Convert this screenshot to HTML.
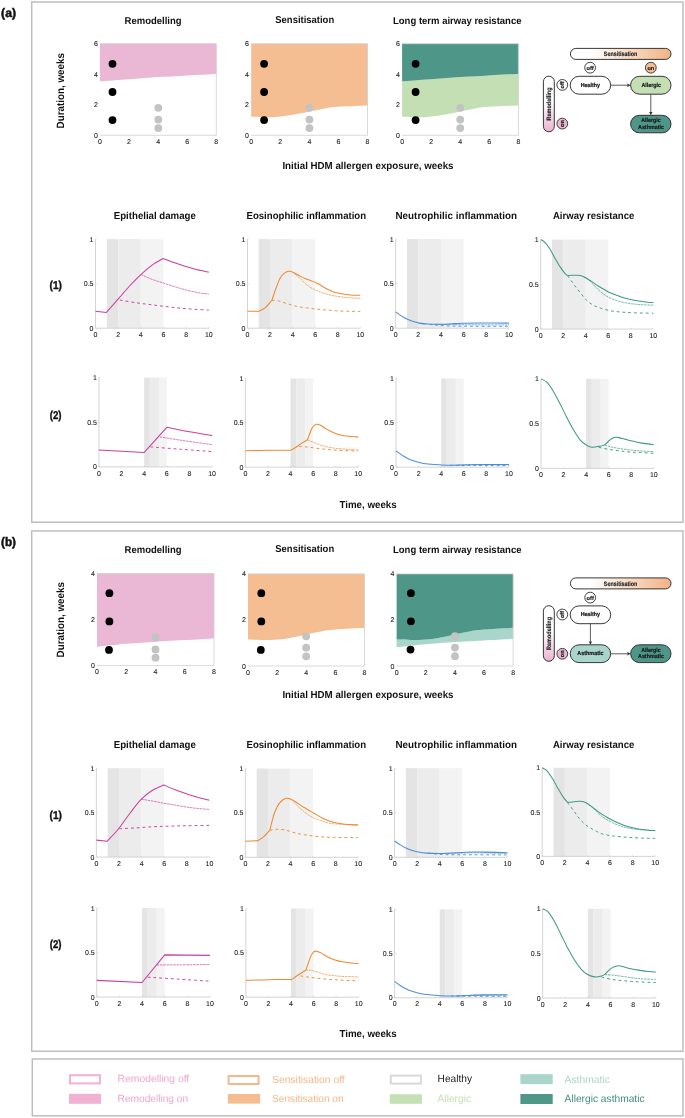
<!DOCTYPE html>
<html><head><meta charset="utf-8"><style>
html,body{margin:0;padding:0;background:#fff;}
svg{display:block;text-rendering:geometricPrecision;-webkit-font-smoothing:antialiased;will-change:transform;font-family:"Liberation Sans", sans-serif;}
</style></head><body>
<svg width="685" height="1118" viewBox="0 0 685 1118">
<defs>
<linearGradient id="gs" x1="0" x2="1" y1="0" y2="0">
<stop offset="0.2" stop-color="#ffffff"/><stop offset="1" stop-color="#F2B385"/></linearGradient>
<linearGradient id="gr" x1="0" x2="0" y1="0" y2="1">
<stop offset="0.45" stop-color="#ffffff"/><stop offset="1" stop-color="#EBB2D2"/></linearGradient>
</defs>
<rect width="685" height="1118" fill="#fff"/>
<rect x="31.7" y="2.0" width="651.3" height="520.2" fill="none" stroke="#BEBEBE" stroke-width="1.5"/>
<rect x="31.7" y="531.0" width="651.3" height="520.2" fill="none" stroke="#BEBEBE" stroke-width="1.5"/>
<rect x="32.3" y="1059.0" width="650.7" height="56.8" fill="none" stroke="#BEBEBE" stroke-width="1.5"/>
<text x="1.10" y="17.40" font-size="12.30" font-weight="bold" fill="#111" text-anchor="start" textLength="14.9" lengthAdjust="spacingAndGlyphs" stroke="#111" stroke-width="0.50">(a)</text>
<text x="1.10" y="546.40" font-size="12.30" font-weight="bold" fill="#111" text-anchor="start" textLength="14.9" lengthAdjust="spacingAndGlyphs" stroke="#111" stroke-width="0.50">(b)</text>
<text x="124.60" y="23.70" font-size="10.00" font-weight="bold" fill="#111" text-anchor="start" textLength="57.0" lengthAdjust="spacingAndGlyphs" >Remodelling</text>
<text x="275.30" y="23.40" font-size="10.00" font-weight="bold" fill="#111" text-anchor="start" textLength="58.9" lengthAdjust="spacingAndGlyphs" >Sensitisation</text>
<text x="393.00" y="24.00" font-size="10.00" font-weight="bold" fill="#111" text-anchor="start" textLength="128.5" lengthAdjust="spacingAndGlyphs" >Long term airway resistance</text>
<text x="63.90" y="128.40" font-size="10.6" font-weight="bold" fill="#111" transform="rotate(-90 63.90 128.40)" textLength="75.4" lengthAdjust="spacingAndGlyphs">Duration, weeks</text>
<text x="282.40" y="169.40" font-size="10.10" font-weight="bold" fill="#111" text-anchor="start" textLength="171.1" lengthAdjust="spacingAndGlyphs" >Initial HDM allergen exposure, weeks</text>
<text x="113.80" y="219.30" font-size="10.10" font-weight="bold" fill="#111" text-anchor="start" textLength="82.0" lengthAdjust="spacingAndGlyphs" >Epithelial damage</text>
<text x="246.50" y="219.30" font-size="10.10" font-weight="bold" fill="#111" text-anchor="start" textLength="119.6" lengthAdjust="spacingAndGlyphs" >Eosinophilic inflammation</text>
<text x="395.50" y="219.30" font-size="10.10" font-weight="bold" fill="#111" text-anchor="start" textLength="121.5" lengthAdjust="spacingAndGlyphs" >Neutrophilic inflammation</text>
<text x="552.90" y="219.30" font-size="10.10" font-weight="bold" fill="#111" text-anchor="start" textLength="81.4" lengthAdjust="spacingAndGlyphs" >Airway resistance</text>
<text x="49.60" y="289.10" font-size="11.30" font-weight="bold" fill="#111" text-anchor="start" textLength="12.3" lengthAdjust="spacingAndGlyphs" stroke="#111" stroke-width="0.40">(1)</text>
<text x="49.70" y="418.60" font-size="11.30" font-weight="bold" fill="#111" text-anchor="start" textLength="11.8" lengthAdjust="spacingAndGlyphs" stroke="#111" stroke-width="0.40">(2)</text>
<text x="339.40" y="507.60" font-size="10.10" font-weight="bold" fill="#111" text-anchor="start" textLength="57.3" lengthAdjust="spacingAndGlyphs" >Time, weeks</text>
<text x="124.60" y="552.70" font-size="10.00" font-weight="bold" fill="#111" text-anchor="start" textLength="57.0" lengthAdjust="spacingAndGlyphs" >Remodelling</text>
<text x="275.30" y="552.40" font-size="10.00" font-weight="bold" fill="#111" text-anchor="start" textLength="58.9" lengthAdjust="spacingAndGlyphs" >Sensitisation</text>
<text x="393.00" y="553.00" font-size="10.00" font-weight="bold" fill="#111" text-anchor="start" textLength="128.5" lengthAdjust="spacingAndGlyphs" >Long term airway resistance</text>
<text x="63.90" y="657.40" font-size="10.6" font-weight="bold" fill="#111" transform="rotate(-90 63.90 657.40)" textLength="75.4" lengthAdjust="spacingAndGlyphs">Duration, weeks</text>
<text x="282.40" y="698.40" font-size="10.10" font-weight="bold" fill="#111" text-anchor="start" textLength="171.1" lengthAdjust="spacingAndGlyphs" >Initial HDM allergen exposure, weeks</text>
<text x="113.80" y="748.30" font-size="10.10" font-weight="bold" fill="#111" text-anchor="start" textLength="82.0" lengthAdjust="spacingAndGlyphs" >Epithelial damage</text>
<text x="246.50" y="748.30" font-size="10.10" font-weight="bold" fill="#111" text-anchor="start" textLength="119.6" lengthAdjust="spacingAndGlyphs" >Eosinophilic inflammation</text>
<text x="395.50" y="748.30" font-size="10.10" font-weight="bold" fill="#111" text-anchor="start" textLength="121.5" lengthAdjust="spacingAndGlyphs" >Neutrophilic inflammation</text>
<text x="552.90" y="748.30" font-size="10.10" font-weight="bold" fill="#111" text-anchor="start" textLength="81.4" lengthAdjust="spacingAndGlyphs" >Airway resistance</text>
<text x="49.60" y="818.70" font-size="11.30" font-weight="bold" fill="#111" text-anchor="start" textLength="12.3" lengthAdjust="spacingAndGlyphs" stroke="#111" stroke-width="0.40">(1)</text>
<text x="49.70" y="947.60" font-size="11.30" font-weight="bold" fill="#111" text-anchor="start" textLength="11.8" lengthAdjust="spacingAndGlyphs" stroke="#111" stroke-width="0.40">(2)</text>
<text x="339.40" y="1036.60" font-size="10.10" font-weight="bold" fill="#111" text-anchor="start" textLength="57.3" lengthAdjust="spacingAndGlyphs" >Time, weeks</text>
<path d="M100.00,43.70 L216.30,43.70 L216.30,73.93 C211.45,74.18 197.45,74.89 187.23,75.45 C177.00,76.01 164.64,76.66 154.95,77.29 C145.26,77.91 138.23,78.53 129.07,79.20 C119.92,79.86 104.85,80.91 100.00,81.26 Z" fill="#EAB7D4"/>
<path d="M100.00,43.70 H216.30 V135.30 H100.00" fill="none" stroke="#CFCFCF" stroke-width="0.8"/>
<text x="100.00" y="144.10" font-size="7.00" fill="#1e1e1e" text-anchor="middle" stroke="#1e1e1e" stroke-width="0.1">0</text>
<text x="129.07" y="144.10" font-size="7.00" fill="#1e1e1e" text-anchor="middle" stroke="#1e1e1e" stroke-width="0.1">2</text>
<text x="158.15" y="144.10" font-size="7.00" fill="#1e1e1e" text-anchor="middle" stroke="#1e1e1e" stroke-width="0.1">4</text>
<text x="187.23" y="144.10" font-size="7.00" fill="#1e1e1e" text-anchor="middle" stroke="#1e1e1e" stroke-width="0.1">6</text>
<text x="216.30" y="144.10" font-size="7.00" fill="#1e1e1e" text-anchor="middle" stroke="#1e1e1e" stroke-width="0.1">8</text>
<text x="97.80" y="137.80" font-size="7.00" fill="#1e1e1e" text-anchor="end" stroke="#1e1e1e" stroke-width="0.1">0</text>
<text x="97.80" y="107.27" font-size="7.00" fill="#1e1e1e" text-anchor="end" stroke="#1e1e1e" stroke-width="0.1">2</text>
<text x="97.80" y="76.73" font-size="7.00" fill="#1e1e1e" text-anchor="end" stroke="#1e1e1e" stroke-width="0.1">4</text>
<text x="97.80" y="46.20" font-size="7.00" fill="#1e1e1e" text-anchor="end" stroke="#1e1e1e" stroke-width="0.1">6</text>
<circle cx="112.50" cy="63.80" r="3.9" fill="#000"/>
<circle cx="112.50" cy="92.00" r="3.9" fill="#000"/>
<circle cx="112.50" cy="120.10" r="3.9" fill="#000"/>
<circle cx="158.30" cy="107.80" r="3.9" fill="#C3C3C3"/>
<circle cx="158.30" cy="119.60" r="3.9" fill="#C3C3C3"/>
<circle cx="158.30" cy="128.10" r="3.9" fill="#C3C3C3"/>
<path d="M251.20,43.70 L367.50,43.70 L367.50,105.38 C362.90,105.58 347.05,106.09 339.88,106.60 C332.71,107.11 329.56,107.62 324.47,108.43 C319.38,109.24 314.87,110.39 309.35,111.48 C303.83,112.58 297.38,114.05 291.32,115.00 C285.27,115.94 279.69,116.85 273.01,117.13 C266.32,117.41 254.83,116.75 251.20,116.67 Z" fill="#F5BE92"/>
<path d="M251.20,43.70 H367.50 V135.30 H251.20" fill="none" stroke="#CFCFCF" stroke-width="0.8"/>
<text x="251.20" y="144.10" font-size="7.00" fill="#1e1e1e" text-anchor="middle" stroke="#1e1e1e" stroke-width="0.1">0</text>
<text x="280.27" y="144.10" font-size="7.00" fill="#1e1e1e" text-anchor="middle" stroke="#1e1e1e" stroke-width="0.1">2</text>
<text x="309.35" y="144.10" font-size="7.00" fill="#1e1e1e" text-anchor="middle" stroke="#1e1e1e" stroke-width="0.1">4</text>
<text x="338.43" y="144.10" font-size="7.00" fill="#1e1e1e" text-anchor="middle" stroke="#1e1e1e" stroke-width="0.1">6</text>
<text x="367.50" y="144.10" font-size="7.00" fill="#1e1e1e" text-anchor="middle" stroke="#1e1e1e" stroke-width="0.1">8</text>
<text x="249.00" y="137.80" font-size="7.00" fill="#1e1e1e" text-anchor="end" stroke="#1e1e1e" stroke-width="0.1">0</text>
<text x="249.00" y="107.27" font-size="7.00" fill="#1e1e1e" text-anchor="end" stroke="#1e1e1e" stroke-width="0.1">2</text>
<text x="249.00" y="76.73" font-size="7.00" fill="#1e1e1e" text-anchor="end" stroke="#1e1e1e" stroke-width="0.1">4</text>
<text x="249.00" y="46.20" font-size="7.00" fill="#1e1e1e" text-anchor="end" stroke="#1e1e1e" stroke-width="0.1">6</text>
<circle cx="264.10" cy="63.80" r="3.9" fill="#000"/>
<circle cx="264.10" cy="92.00" r="3.9" fill="#000"/>
<circle cx="264.10" cy="120.10" r="3.9" fill="#000"/>
<circle cx="309.40" cy="107.80" r="3.9" fill="#C3C3C3"/>
<circle cx="309.40" cy="119.60" r="3.9" fill="#C3C3C3"/>
<circle cx="309.40" cy="128.10" r="3.9" fill="#C3C3C3"/>
<path d="M402.10,81.26 C406.95,80.91 422.02,79.86 431.18,79.20 C440.33,78.53 447.36,77.91 457.05,77.29 C466.74,76.66 479.10,76.01 489.32,75.45 C499.55,74.89 513.55,74.18 518.40,73.93 L518.40,105.38 C513.80,105.58 497.95,106.09 490.78,106.60 C483.61,107.11 480.46,107.62 475.37,108.43 C470.28,109.24 465.77,110.39 460.25,111.48 C454.73,112.58 448.28,114.05 442.22,115.00 C436.17,115.94 430.59,116.85 423.91,117.13 C417.22,117.41 405.73,116.75 402.10,116.67 Z" fill="#C5DFB5"/>
<path d="M402.10,43.70 L518.40,43.70 L518.40,73.93 C513.55,74.18 499.55,74.89 489.32,75.45 C479.10,76.01 466.74,76.66 457.05,77.29 C447.36,77.91 440.33,78.53 431.18,79.20 C422.02,79.86 406.95,80.91 402.10,81.26 Z" fill="#4E9688"/>
<path d="M402.10,43.70 H518.40 V135.30 H402.10" fill="none" stroke="#CFCFCF" stroke-width="0.8"/>
<text x="402.10" y="144.10" font-size="7.00" fill="#1e1e1e" text-anchor="middle" stroke="#1e1e1e" stroke-width="0.1">0</text>
<text x="431.18" y="144.10" font-size="7.00" fill="#1e1e1e" text-anchor="middle" stroke="#1e1e1e" stroke-width="0.1">2</text>
<text x="460.25" y="144.10" font-size="7.00" fill="#1e1e1e" text-anchor="middle" stroke="#1e1e1e" stroke-width="0.1">4</text>
<text x="489.32" y="144.10" font-size="7.00" fill="#1e1e1e" text-anchor="middle" stroke="#1e1e1e" stroke-width="0.1">6</text>
<text x="518.40" y="144.10" font-size="7.00" fill="#1e1e1e" text-anchor="middle" stroke="#1e1e1e" stroke-width="0.1">8</text>
<text x="399.90" y="137.80" font-size="7.00" fill="#1e1e1e" text-anchor="end" stroke="#1e1e1e" stroke-width="0.1">0</text>
<text x="399.90" y="107.27" font-size="7.00" fill="#1e1e1e" text-anchor="end" stroke="#1e1e1e" stroke-width="0.1">2</text>
<text x="399.90" y="76.73" font-size="7.00" fill="#1e1e1e" text-anchor="end" stroke="#1e1e1e" stroke-width="0.1">4</text>
<text x="399.90" y="46.20" font-size="7.00" fill="#1e1e1e" text-anchor="end" stroke="#1e1e1e" stroke-width="0.1">6</text>
<circle cx="415.60" cy="63.80" r="3.9" fill="#000"/>
<circle cx="415.60" cy="92.00" r="3.9" fill="#000"/>
<circle cx="415.60" cy="120.10" r="3.9" fill="#000"/>
<circle cx="460.20" cy="107.80" r="3.9" fill="#C3C3C3"/>
<circle cx="460.20" cy="119.60" r="3.9" fill="#C3C3C3"/>
<circle cx="460.20" cy="128.10" r="3.9" fill="#C3C3C3"/>
<path d="M97.00,573.50 L214.00,573.50 L214.00,638.43 C209.12,638.70 194.50,639.50 184.75,640.04 C175.00,640.58 165.25,641.04 155.50,641.65 C145.75,642.27 136.00,642.88 126.25,643.73 C116.50,644.57 101.88,646.22 97.00,646.72 Z" fill="#EAB7D4"/>
<path d="M97.00,573.50 H214.00 V665.60 H97.00" fill="none" stroke="#CFCFCF" stroke-width="0.8"/>
<text x="97.00" y="674.40" font-size="7.00" fill="#1e1e1e" text-anchor="middle" stroke="#1e1e1e" stroke-width="0.1">0</text>
<text x="126.25" y="674.40" font-size="7.00" fill="#1e1e1e" text-anchor="middle" stroke="#1e1e1e" stroke-width="0.1">2</text>
<text x="155.50" y="674.40" font-size="7.00" fill="#1e1e1e" text-anchor="middle" stroke="#1e1e1e" stroke-width="0.1">4</text>
<text x="184.75" y="674.40" font-size="7.00" fill="#1e1e1e" text-anchor="middle" stroke="#1e1e1e" stroke-width="0.1">6</text>
<text x="214.00" y="674.40" font-size="7.00" fill="#1e1e1e" text-anchor="middle" stroke="#1e1e1e" stroke-width="0.1">8</text>
<text x="94.80" y="668.10" font-size="7.00" fill="#1e1e1e" text-anchor="end" stroke="#1e1e1e" stroke-width="0.1">0</text>
<text x="94.80" y="622.05" font-size="7.00" fill="#1e1e1e" text-anchor="end" stroke="#1e1e1e" stroke-width="0.1">2</text>
<text x="94.80" y="576.00" font-size="7.00" fill="#1e1e1e" text-anchor="end" stroke="#1e1e1e" stroke-width="0.1">4</text>
<circle cx="109.40" cy="593.20" r="3.9" fill="#000"/>
<circle cx="109.40" cy="621.40" r="3.9" fill="#000"/>
<circle cx="109.00" cy="649.90" r="3.9" fill="#000"/>
<circle cx="155.50" cy="637.50" r="3.9" fill="#C3C3C3"/>
<circle cx="155.50" cy="649.40" r="3.9" fill="#C3C3C3"/>
<circle cx="155.50" cy="657.70" r="3.9" fill="#C3C3C3"/>
<path d="M248.00,573.90 L364.50,573.90 L364.50,627.78 C359.65,628.09 342.41,629.04 335.38,629.62 C328.34,630.20 327.12,630.43 322.27,631.23 C317.41,632.04 310.62,633.53 306.25,634.46 C301.88,635.38 299.58,636.03 296.06,636.76 C292.54,637.49 289.50,638.29 285.13,638.83 C280.77,639.37 276.03,639.87 269.84,639.98 C263.65,640.10 251.64,639.60 248.00,639.52 Z" fill="#F5BE92"/>
<path d="M248.00,573.90 H364.50 V666.00 H248.00" fill="none" stroke="#CFCFCF" stroke-width="0.8"/>
<text x="248.00" y="674.80" font-size="7.00" fill="#1e1e1e" text-anchor="middle" stroke="#1e1e1e" stroke-width="0.1">0</text>
<text x="277.12" y="674.80" font-size="7.00" fill="#1e1e1e" text-anchor="middle" stroke="#1e1e1e" stroke-width="0.1">2</text>
<text x="306.25" y="674.80" font-size="7.00" fill="#1e1e1e" text-anchor="middle" stroke="#1e1e1e" stroke-width="0.1">4</text>
<text x="335.38" y="674.80" font-size="7.00" fill="#1e1e1e" text-anchor="middle" stroke="#1e1e1e" stroke-width="0.1">6</text>
<text x="364.50" y="674.80" font-size="7.00" fill="#1e1e1e" text-anchor="middle" stroke="#1e1e1e" stroke-width="0.1">8</text>
<text x="245.80" y="668.50" font-size="7.00" fill="#1e1e1e" text-anchor="end" stroke="#1e1e1e" stroke-width="0.1">0</text>
<text x="245.80" y="622.45" font-size="7.00" fill="#1e1e1e" text-anchor="end" stroke="#1e1e1e" stroke-width="0.1">2</text>
<text x="245.80" y="576.40" font-size="7.00" fill="#1e1e1e" text-anchor="end" stroke="#1e1e1e" stroke-width="0.1">4</text>
<circle cx="261.30" cy="593.20" r="3.9" fill="#000"/>
<circle cx="261.30" cy="621.40" r="3.9" fill="#000"/>
<circle cx="260.80" cy="649.90" r="3.9" fill="#000"/>
<circle cx="306.20" cy="636.30" r="3.9" fill="#C3C3C3"/>
<circle cx="306.20" cy="647.70" r="3.9" fill="#C3C3C3"/>
<circle cx="306.20" cy="656.30" r="3.9" fill="#C3C3C3"/>
<path d="M396.60,639.52 C400.24,639.60 412.25,640.10 418.44,639.98 C424.63,639.87 429.37,639.37 433.73,638.83 C438.10,638.29 441.14,637.49 444.66,636.76 C448.18,636.03 450.48,635.38 454.85,634.46 C459.22,633.53 466.01,632.04 470.87,631.23 C475.72,630.43 476.94,630.20 483.98,629.62 C491.01,629.04 508.25,628.09 513.10,627.78 L513.10,638.83 C508.25,639.10 493.68,639.90 483.98,640.44 C474.27,640.98 464.56,641.44 454.85,642.05 C445.14,642.67 435.43,643.28 425.73,644.13 C416.02,644.97 401.45,646.62 396.60,647.12 Z" fill="#A9D5CB"/>
<path d="M396.60,573.90 L513.10,573.90 L513.10,627.78 C508.25,628.09 491.01,629.04 483.98,629.62 C476.94,630.20 475.72,630.43 470.87,631.23 C466.01,632.04 459.22,633.53 454.85,634.46 C450.48,635.38 448.18,636.03 444.66,636.76 C441.14,637.49 438.10,638.29 433.73,638.83 C429.37,639.37 424.63,639.87 418.44,639.98 C412.25,640.10 400.24,639.60 396.60,639.52 Z" fill="#4E9688"/>
<path d="M396.60,573.90 H513.10 V666.00 H396.60" fill="none" stroke="#CFCFCF" stroke-width="0.8"/>
<text x="396.60" y="674.80" font-size="7.00" fill="#1e1e1e" text-anchor="middle" stroke="#1e1e1e" stroke-width="0.1">0</text>
<text x="425.73" y="674.80" font-size="7.00" fill="#1e1e1e" text-anchor="middle" stroke="#1e1e1e" stroke-width="0.1">2</text>
<text x="454.85" y="674.80" font-size="7.00" fill="#1e1e1e" text-anchor="middle" stroke="#1e1e1e" stroke-width="0.1">4</text>
<text x="483.98" y="674.80" font-size="7.00" fill="#1e1e1e" text-anchor="middle" stroke="#1e1e1e" stroke-width="0.1">6</text>
<text x="513.10" y="674.80" font-size="7.00" fill="#1e1e1e" text-anchor="middle" stroke="#1e1e1e" stroke-width="0.1">8</text>
<text x="394.40" y="668.50" font-size="7.00" fill="#1e1e1e" text-anchor="end" stroke="#1e1e1e" stroke-width="0.1">0</text>
<text x="394.40" y="622.45" font-size="7.00" fill="#1e1e1e" text-anchor="end" stroke="#1e1e1e" stroke-width="0.1">2</text>
<text x="394.40" y="576.40" font-size="7.00" fill="#1e1e1e" text-anchor="end" stroke="#1e1e1e" stroke-width="0.1">4</text>
<circle cx="410.90" cy="593.20" r="3.9" fill="#000"/>
<circle cx="410.90" cy="621.30" r="3.9" fill="#000"/>
<circle cx="410.50" cy="649.60" r="3.9" fill="#000"/>
<circle cx="455.00" cy="636.10" r="3.9" fill="#C3C3C3"/>
<circle cx="455.00" cy="647.60" r="3.9" fill="#C3C3C3"/>
<circle cx="455.00" cy="656.20" r="3.9" fill="#C3C3C3"/>
<rect x="570.4" y="48.40" width="100.6" height="11.0" rx="5.5" fill="url(#gs)" stroke="#222" stroke-width="0.9"/>
<text x="620.6" y="56.10" font-size="6.4" font-weight="bold" fill="#222" stroke="#222" stroke-width="0.15" text-anchor="middle" textLength="33.5" lengthAdjust="spacingAndGlyphs">Sensitisation</text>
<rect x="543.4" y="76.20" width="10.9" height="55.6" rx="5.45" fill="url(#gr)" stroke="#222" stroke-width="0.9"/>
<text x="549.0" y="106.20" font-size="6.4" font-weight="bold" fill="#222" stroke="#222" stroke-width="0.15" text-anchor="middle" transform="rotate(-90 549.0 104.00)" textLength="33" lengthAdjust="spacingAndGlyphs">Remodelling</text>
<circle cx="590.10" cy="67.70" r="5.4" fill="#fff" stroke="#222" stroke-width="0.85"/>
<text x="590.10" y="69.70" font-size="5.6" font-weight="bold" fill="#222" stroke="#222" stroke-width="0.2" text-anchor="middle">off</text>
<circle cx="650.80" cy="67.70" r="5.4" fill="#F5BE92" stroke="#222" stroke-width="0.85"/>
<text x="650.80" y="69.70" font-size="5.6" font-weight="bold" fill="#222" stroke="#222" stroke-width="0.2" text-anchor="middle">on</text>
<circle cx="562.30" cy="84.90" r="5.4" fill="#fff" stroke="#222" stroke-width="0.85"/>
<text x="562.30" y="86.90" font-size="5.6" font-weight="bold" fill="#222" stroke="#222" stroke-width="0.2" text-anchor="middle" transform="rotate(-90 562.30 84.90)">off</text>
<circle cx="562.30" cy="123.60" r="5.4" fill="#EAB7D4" stroke="#222" stroke-width="0.85"/>
<text x="562.30" y="125.60" font-size="5.6" font-weight="bold" fill="#222" stroke="#222" stroke-width="0.2" text-anchor="middle" transform="rotate(-90 562.30 123.60)">on</text>
<rect x="570.20" y="76.30" width="40.50" height="17.90" rx="8.95" fill="#fff" stroke="#222" stroke-width="0.90"/>
<rect x="630.60" y="76.30" width="40.40" height="17.90" rx="8.95" fill="#C5DFB5" stroke="#222" stroke-width="0.90"/>
<rect x="630.60" y="115.30" width="40.40" height="17.50" rx="8.75" fill="#4E9688" stroke="#222" stroke-width="0.90"/>
<text x="580.70" y="86.80" font-size="5.80" font-weight="bold" fill="#1a1a1a" stroke="#1a1a1a" stroke-width="0.22" textLength="19.40" lengthAdjust="spacingAndGlyphs">Healthy</text>
<text x="641.40" y="86.80" font-size="5.80" font-weight="bold" fill="#1a1a1a" stroke="#1a1a1a" stroke-width="0.22" textLength="19.60" lengthAdjust="spacingAndGlyphs">Allergic</text>
<text x="641.30" y="122.40" font-size="5.80" font-weight="bold" fill="#1a1a1a" stroke="#1a1a1a" stroke-width="0.22" textLength="19.40" lengthAdjust="spacingAndGlyphs">Allergic</text>
<text x="638.00" y="128.50" font-size="5.80" font-weight="bold" fill="#1a1a1a" stroke="#1a1a1a" stroke-width="0.22" textLength="26.00" lengthAdjust="spacingAndGlyphs">Asthmatic</text>
<path d="M610.70,85.20 L627.40,85.20" stroke="#333" stroke-width="0.8"/>
<path d="M630.60,85.20 L627.40,86.90 L627.40,83.50 Z" fill="#333"/>
<path d="M650.80,94.20 L650.80,112.10" stroke="#333" stroke-width="0.8"/>
<path d="M650.80,115.30 L649.10,112.10 L652.50,112.10 Z" fill="#333"/>
<rect x="570.4" y="577.90" width="100.6" height="11.0" rx="5.5" fill="url(#gs)" stroke="#222" stroke-width="0.9"/>
<text x="620.6" y="585.60" font-size="6.4" font-weight="bold" fill="#222" stroke="#222" stroke-width="0.15" text-anchor="middle" textLength="33.5" lengthAdjust="spacingAndGlyphs">Sensitisation</text>
<rect x="543.4" y="605.70" width="10.9" height="55.6" rx="5.45" fill="url(#gr)" stroke="#222" stroke-width="0.9"/>
<text x="549.0" y="635.70" font-size="6.4" font-weight="bold" fill="#222" stroke="#222" stroke-width="0.15" text-anchor="middle" transform="rotate(-90 549.0 633.50)" textLength="33" lengthAdjust="spacingAndGlyphs">Remodelling</text>
<circle cx="590.20" cy="597.60" r="5.4" fill="#fff" stroke="#222" stroke-width="0.85"/>
<text x="590.20" y="599.60" font-size="5.6" font-weight="bold" fill="#222" stroke="#222" stroke-width="0.2" text-anchor="middle">off</text>
<circle cx="562.30" cy="614.50" r="5.4" fill="#fff" stroke="#222" stroke-width="0.85"/>
<text x="562.30" y="616.50" font-size="5.6" font-weight="bold" fill="#222" stroke="#222" stroke-width="0.2" text-anchor="middle" transform="rotate(-90 562.30 614.50)">off</text>
<circle cx="562.30" cy="653.80" r="5.4" fill="#EAB7D4" stroke="#222" stroke-width="0.85"/>
<text x="562.30" y="655.80" font-size="5.6" font-weight="bold" fill="#222" stroke="#222" stroke-width="0.2" text-anchor="middle" transform="rotate(-90 562.30 653.80)">on</text>
<rect x="570.20" y="605.90" width="40.50" height="17.80" rx="8.90" fill="#fff" stroke="#222" stroke-width="0.90"/>
<rect x="570.20" y="644.80" width="40.50" height="17.80" rx="8.90" fill="#A9D5CB" stroke="#222" stroke-width="0.90"/>
<rect x="630.60" y="644.80" width="40.40" height="17.80" rx="8.90" fill="#4E9688" stroke="#222" stroke-width="0.90"/>
<text x="580.70" y="616.30" font-size="5.80" font-weight="bold" fill="#1a1a1a" stroke="#1a1a1a" stroke-width="0.22" textLength="19.40" lengthAdjust="spacingAndGlyphs">Healthy</text>
<text x="577.35" y="655.30" font-size="5.80" font-weight="bold" fill="#1a1a1a" stroke="#1a1a1a" stroke-width="0.22" textLength="26.10" lengthAdjust="spacingAndGlyphs">Asthmatic</text>
<text x="641.30" y="651.90" font-size="5.80" font-weight="bold" fill="#1a1a1a" stroke="#1a1a1a" stroke-width="0.22" textLength="19.40" lengthAdjust="spacingAndGlyphs">Allergic</text>
<text x="638.00" y="658.00" font-size="5.80" font-weight="bold" fill="#1a1a1a" stroke="#1a1a1a" stroke-width="0.22" textLength="26.00" lengthAdjust="spacingAndGlyphs">Asthmatic</text>
<path d="M590.40,623.70 L590.40,641.60" stroke="#333" stroke-width="0.8"/>
<path d="M590.40,644.80 L588.70,641.60 L592.10,641.60 Z" fill="#333"/>
<path d="M610.70,653.80 L627.40,653.80" stroke="#333" stroke-width="0.8"/>
<path d="M630.60,653.80 L627.40,655.50 L627.40,652.10 Z" fill="#333"/>
<rect x="106.83" y="239.10" width="11.33" height="89.10" fill="#E4E4E4"/>
<rect x="118.16" y="239.10" width="22.66" height="89.10" fill="#ECECEC"/>
<rect x="140.82" y="239.10" width="22.66" height="89.10" fill="#F3F3F3"/>
<path d="M95.50,239.10 V328.20 H208.80" fill="none" stroke="#CFCFCF" stroke-width="0.9"/>
<path d="M95.50,328.20 v-1.5" stroke="#CFCFCF" stroke-width="0.6"/>
<text x="95.50" y="336.80" font-size="7.00" fill="#1e1e1e" text-anchor="middle" stroke="#1e1e1e" stroke-width="0.1">0</text>
<path d="M118.16,328.20 v-1.5" stroke="#CFCFCF" stroke-width="0.6"/>
<text x="118.16" y="336.80" font-size="7.00" fill="#1e1e1e" text-anchor="middle" stroke="#1e1e1e" stroke-width="0.1">2</text>
<path d="M140.82,328.20 v-1.5" stroke="#CFCFCF" stroke-width="0.6"/>
<text x="140.82" y="336.80" font-size="7.00" fill="#1e1e1e" text-anchor="middle" stroke="#1e1e1e" stroke-width="0.1">4</text>
<path d="M163.48,328.20 v-1.5" stroke="#CFCFCF" stroke-width="0.6"/>
<text x="163.48" y="336.80" font-size="7.00" fill="#1e1e1e" text-anchor="middle" stroke="#1e1e1e" stroke-width="0.1">6</text>
<path d="M186.14,328.20 v-1.5" stroke="#CFCFCF" stroke-width="0.6"/>
<text x="186.14" y="336.80" font-size="7.00" fill="#1e1e1e" text-anchor="middle" stroke="#1e1e1e" stroke-width="0.1">8</text>
<path d="M208.80,328.20 v-1.5" stroke="#CFCFCF" stroke-width="0.6"/>
<text x="208.80" y="336.80" font-size="7.00" fill="#1e1e1e" text-anchor="middle" stroke="#1e1e1e" stroke-width="0.1">10</text>
<path d="M95.50,328.20 h1.5" stroke="#CFCFCF" stroke-width="0.6"/>
<text x="93.50" y="330.70" font-size="7.00" fill="#1e1e1e" text-anchor="end" stroke="#1e1e1e" stroke-width="0.1">0</text>
<path d="M95.50,283.65 h1.5" stroke="#CFCFCF" stroke-width="0.6"/>
<text x="93.50" y="286.15" font-size="7.00" fill="#1e1e1e" text-anchor="end" stroke="#1e1e1e" stroke-width="0.1">0.5</text>
<path d="M95.50,239.10 h1.5" stroke="#CFCFCF" stroke-width="0.6"/>
<text x="93.50" y="241.60" font-size="7.00" fill="#1e1e1e" text-anchor="end" stroke="#1e1e1e" stroke-width="0.1">1</text>
<path d="M95.50,311.27 L106.38,312.43 C108.40,310.14 114.52,303.24 118.50,298.71 C122.48,294.18 126.51,289.31 130.28,285.25 C134.06,281.20 137.53,277.74 141.16,274.38 C144.79,271.03 148.39,267.78 152.04,265.12 C155.68,262.46 161.20,259.55 163.03,258.43 C164.84,259.13 170.13,261.29 173.90,262.62 C177.68,263.96 181.78,265.25 185.69,266.45 C189.60,267.66 193.50,268.87 197.36,269.84 C201.21,270.80 206.89,271.84 208.80,272.25" fill="none" stroke="#CC3D9F" stroke-width="1.05" stroke-linejoin="round"/>
<path d="M141.16,274.56 C142.97,275.36 148.26,277.93 152.04,279.37 C155.81,280.81 159.89,281.94 163.82,283.20 C167.75,284.47 171.68,285.76 175.60,286.95 C179.53,288.13 183.48,289.35 187.39,290.33 C191.30,291.31 195.49,292.22 199.06,292.83 C202.63,293.44 207.18,293.79 208.80,293.99" fill="none" stroke="#CC3D9F" stroke-width="0.8" stroke-dasharray="2.6,0.7" opacity="0.85"/>
<path d="M119.86,300.04 C122.71,300.52 131.32,302.06 136.97,302.90 C142.61,303.73 148.15,304.34 153.74,305.03 C159.33,305.73 164.90,306.46 170.50,307.08 C176.11,307.71 181.00,308.27 187.39,308.78 C193.77,309.28 205.23,309.89 208.80,310.11" fill="none" stroke="#CC3D9F" stroke-width="0.95" stroke-dasharray="2.8,3.0"/>
<rect x="258.78" y="239.10" width="11.28" height="89.10" fill="#E4E4E4"/>
<rect x="270.06" y="239.10" width="22.56" height="89.10" fill="#ECECEC"/>
<rect x="292.62" y="239.10" width="22.56" height="89.10" fill="#F3F3F3"/>
<path d="M247.50,239.10 V328.20 H360.30" fill="none" stroke="#CFCFCF" stroke-width="0.9"/>
<path d="M247.50,328.20 v-1.5" stroke="#CFCFCF" stroke-width="0.6"/>
<text x="247.50" y="336.80" font-size="7.00" fill="#1e1e1e" text-anchor="middle" stroke="#1e1e1e" stroke-width="0.1">0</text>
<path d="M270.06,328.20 v-1.5" stroke="#CFCFCF" stroke-width="0.6"/>
<text x="270.06" y="336.80" font-size="7.00" fill="#1e1e1e" text-anchor="middle" stroke="#1e1e1e" stroke-width="0.1">2</text>
<path d="M292.62,328.20 v-1.5" stroke="#CFCFCF" stroke-width="0.6"/>
<text x="292.62" y="336.80" font-size="7.00" fill="#1e1e1e" text-anchor="middle" stroke="#1e1e1e" stroke-width="0.1">4</text>
<path d="M315.18,328.20 v-1.5" stroke="#CFCFCF" stroke-width="0.6"/>
<text x="315.18" y="336.80" font-size="7.00" fill="#1e1e1e" text-anchor="middle" stroke="#1e1e1e" stroke-width="0.1">6</text>
<path d="M337.74,328.20 v-1.5" stroke="#CFCFCF" stroke-width="0.6"/>
<text x="337.74" y="336.80" font-size="7.00" fill="#1e1e1e" text-anchor="middle" stroke="#1e1e1e" stroke-width="0.1">8</text>
<path d="M360.30,328.20 v-1.5" stroke="#CFCFCF" stroke-width="0.6"/>
<text x="360.30" y="336.80" font-size="7.00" fill="#1e1e1e" text-anchor="middle" stroke="#1e1e1e" stroke-width="0.1">10</text>
<path d="M247.50,328.20 h1.5" stroke="#CFCFCF" stroke-width="0.6"/>
<text x="245.50" y="330.70" font-size="7.00" fill="#1e1e1e" text-anchor="end" stroke="#1e1e1e" stroke-width="0.1">0</text>
<path d="M247.50,283.65 h1.5" stroke="#CFCFCF" stroke-width="0.6"/>
<text x="245.50" y="286.15" font-size="7.00" fill="#1e1e1e" text-anchor="end" stroke="#1e1e1e" stroke-width="0.1">0.5</text>
<path d="M247.50,239.10 h1.5" stroke="#CFCFCF" stroke-width="0.6"/>
<text x="245.50" y="241.60" font-size="7.00" fill="#1e1e1e" text-anchor="end" stroke="#1e1e1e" stroke-width="0.1">1</text>
<path d="M247.50,311.27 L258.78,311.27 C259.81,310.71 262.78,309.73 264.98,307.89 C267.18,306.04 270.81,301.50 271.98,300.22 C272.20,299.52 272.64,298.11 273.33,296.03 C274.03,293.96 275.00,290.75 276.15,287.75 C277.30,284.75 278.84,280.47 280.21,278.04 C281.58,275.60 282.88,274.25 284.39,273.14 C285.89,272.02 287.62,271.41 289.24,271.35 C290.85,271.29 292.11,271.90 294.09,272.78 C296.06,273.66 298.52,275.39 301.08,276.61 C303.64,277.83 306.66,278.93 309.43,280.09 C312.19,281.24 314.90,282.17 317.66,283.56 C320.43,284.96 323.23,287.02 326.01,288.46 C328.79,289.90 331.57,291.28 334.36,292.20 C337.14,293.12 339.94,293.53 342.70,293.99 C345.47,294.45 348.00,294.74 350.94,294.97 C353.87,295.19 358.74,295.26 360.30,295.32" fill="none" stroke="#EC8A32" stroke-width="1.05" stroke-linejoin="round"/>
<path d="M292.62,272.25 C293.80,273.21 297.62,276.15 299.73,278.04 C301.83,279.92 303.19,281.82 305.25,283.56 C307.32,285.30 309.60,287.02 312.13,288.46 C314.67,289.90 317.70,291.16 320.48,292.20 C323.26,293.24 326.07,294.02 328.83,294.70 C331.59,295.38 333.83,295.80 337.06,296.30 C340.30,296.81 344.36,297.40 348.23,297.73 C352.10,298.05 358.29,298.17 360.30,298.26" fill="none" stroke="#EC8A32" stroke-width="0.8" stroke-dasharray="2.6,0.7" opacity="0.85"/>
<path d="M271.98,300.22 C273.12,300.34 276.32,300.36 278.86,300.94 C281.40,301.51 284.20,302.78 287.21,303.70 C290.21,304.62 293.67,305.76 296.91,306.46 C300.14,307.16 303.15,307.42 306.61,307.89 C310.07,308.35 313.96,308.84 317.66,309.22 C321.37,309.61 325.13,309.90 328.83,310.20 C332.53,310.50 336.20,310.83 339.88,311.00 C343.57,311.18 347.53,311.20 350.94,311.27 C354.34,311.35 358.74,311.42 360.30,311.45" fill="none" stroke="#EC8A32" stroke-width="0.95" stroke-dasharray="2.8,3.0"/>
<rect x="406.93" y="239.10" width="11.33" height="89.10" fill="#E4E4E4"/>
<rect x="418.26" y="239.10" width="22.66" height="89.10" fill="#ECECEC"/>
<rect x="440.92" y="239.10" width="22.66" height="89.10" fill="#F3F3F3"/>
<path d="M395.60,239.10 V328.20 H508.90" fill="none" stroke="#CFCFCF" stroke-width="0.9"/>
<path d="M395.60,328.20 v-1.5" stroke="#CFCFCF" stroke-width="0.6"/>
<text x="395.60" y="336.80" font-size="7.00" fill="#1e1e1e" text-anchor="middle" stroke="#1e1e1e" stroke-width="0.1">0</text>
<path d="M418.26,328.20 v-1.5" stroke="#CFCFCF" stroke-width="0.6"/>
<text x="418.26" y="336.80" font-size="7.00" fill="#1e1e1e" text-anchor="middle" stroke="#1e1e1e" stroke-width="0.1">2</text>
<path d="M440.92,328.20 v-1.5" stroke="#CFCFCF" stroke-width="0.6"/>
<text x="440.92" y="336.80" font-size="7.00" fill="#1e1e1e" text-anchor="middle" stroke="#1e1e1e" stroke-width="0.1">4</text>
<path d="M463.58,328.20 v-1.5" stroke="#CFCFCF" stroke-width="0.6"/>
<text x="463.58" y="336.80" font-size="7.00" fill="#1e1e1e" text-anchor="middle" stroke="#1e1e1e" stroke-width="0.1">6</text>
<path d="M486.24,328.20 v-1.5" stroke="#CFCFCF" stroke-width="0.6"/>
<text x="486.24" y="336.80" font-size="7.00" fill="#1e1e1e" text-anchor="middle" stroke="#1e1e1e" stroke-width="0.1">8</text>
<path d="M508.90,328.20 v-1.5" stroke="#CFCFCF" stroke-width="0.6"/>
<text x="508.90" y="336.80" font-size="7.00" fill="#1e1e1e" text-anchor="middle" stroke="#1e1e1e" stroke-width="0.1">10</text>
<path d="M395.60,328.20 h1.5" stroke="#CFCFCF" stroke-width="0.6"/>
<text x="393.60" y="330.70" font-size="7.00" fill="#1e1e1e" text-anchor="end" stroke="#1e1e1e" stroke-width="0.1">0</text>
<path d="M395.60,283.65 h1.5" stroke="#CFCFCF" stroke-width="0.6"/>
<text x="393.60" y="286.15" font-size="7.00" fill="#1e1e1e" text-anchor="end" stroke="#1e1e1e" stroke-width="0.1">0.5</text>
<path d="M395.60,239.10 h1.5" stroke="#CFCFCF" stroke-width="0.6"/>
<text x="393.60" y="241.60" font-size="7.00" fill="#1e1e1e" text-anchor="end" stroke="#1e1e1e" stroke-width="0.1">1</text>
<path d="M395.60,311.89 C396.54,312.56 399.38,314.72 401.27,315.90 C403.15,317.09 405.04,318.12 406.93,319.02 C408.82,319.93 410.54,320.66 412.60,321.34 C414.65,322.02 416.71,322.66 419.28,323.12 C421.85,323.58 424.21,323.91 428.00,324.10 C431.80,324.29 438.01,324.34 442.05,324.28 C446.09,324.22 448.85,323.91 452.25,323.75 C455.65,323.58 457.73,323.43 462.45,323.30 C467.17,323.17 472.83,322.97 480.57,322.94 C488.32,322.91 504.18,323.09 508.90,323.12" fill="none" stroke="#4A8FD6" stroke-width="1.05" stroke-linejoin="round"/>
<path d="M435.25,324.28 C438.09,324.34 445.64,324.55 452.25,324.64 C458.86,324.73 465.47,324.75 474.91,324.81 C484.35,324.87 503.23,324.96 508.90,324.99" fill="none" stroke="#4A8FD6" stroke-width="0.8" stroke-dasharray="2.6,0.7" opacity="0.85"/>
<path d="M429.59,324.46 C432.42,324.70 439.03,325.59 446.58,325.88 C454.14,326.18 464.52,326.17 474.91,326.24 C485.30,326.31 503.23,326.31 508.90,326.33" fill="none" stroke="#4A8FD6" stroke-width="0.95" stroke-dasharray="2.8,3.0"/>
<rect x="551.96" y="239.60" width="11.26" height="89.50" fill="#E4E4E4"/>
<rect x="563.22" y="239.60" width="22.52" height="89.50" fill="#ECECEC"/>
<rect x="585.74" y="239.60" width="22.52" height="89.50" fill="#F3F3F3"/>
<path d="M540.70,239.60 V329.10 H653.30" fill="none" stroke="#CFCFCF" stroke-width="0.9"/>
<path d="M540.70,329.10 v-1.5" stroke="#CFCFCF" stroke-width="0.6"/>
<text x="540.70" y="337.70" font-size="7.00" fill="#1e1e1e" text-anchor="middle" stroke="#1e1e1e" stroke-width="0.1">0</text>
<path d="M563.22,329.10 v-1.5" stroke="#CFCFCF" stroke-width="0.6"/>
<text x="563.22" y="337.70" font-size="7.00" fill="#1e1e1e" text-anchor="middle" stroke="#1e1e1e" stroke-width="0.1">2</text>
<path d="M585.74,329.10 v-1.5" stroke="#CFCFCF" stroke-width="0.6"/>
<text x="585.74" y="337.70" font-size="7.00" fill="#1e1e1e" text-anchor="middle" stroke="#1e1e1e" stroke-width="0.1">4</text>
<path d="M608.26,329.10 v-1.5" stroke="#CFCFCF" stroke-width="0.6"/>
<text x="608.26" y="337.70" font-size="7.00" fill="#1e1e1e" text-anchor="middle" stroke="#1e1e1e" stroke-width="0.1">6</text>
<path d="M630.78,329.10 v-1.5" stroke="#CFCFCF" stroke-width="0.6"/>
<text x="630.78" y="337.70" font-size="7.00" fill="#1e1e1e" text-anchor="middle" stroke="#1e1e1e" stroke-width="0.1">8</text>
<path d="M653.30,329.10 v-1.5" stroke="#CFCFCF" stroke-width="0.6"/>
<text x="653.30" y="337.70" font-size="7.00" fill="#1e1e1e" text-anchor="middle" stroke="#1e1e1e" stroke-width="0.1">10</text>
<path d="M540.70,329.10 h1.5" stroke="#CFCFCF" stroke-width="0.6"/>
<text x="538.70" y="331.60" font-size="7.00" fill="#1e1e1e" text-anchor="end" stroke="#1e1e1e" stroke-width="0.1">0</text>
<path d="M540.70,284.35 h1.5" stroke="#CFCFCF" stroke-width="0.6"/>
<text x="538.70" y="286.85" font-size="7.00" fill="#1e1e1e" text-anchor="end" stroke="#1e1e1e" stroke-width="0.1">0.5</text>
<path d="M540.70,239.60 h1.5" stroke="#CFCFCF" stroke-width="0.6"/>
<text x="538.70" y="242.10" font-size="7.00" fill="#1e1e1e" text-anchor="end" stroke="#1e1e1e" stroke-width="0.1">1</text>
<path d="M540.70,239.60 C541.43,240.09 543.53,240.94 545.09,242.55 C546.65,244.16 548.38,246.61 550.05,249.27 C551.72,251.92 553.42,255.55 555.11,258.48 C556.80,261.42 558.51,264.38 560.18,266.90 C561.85,269.42 563.88,272.15 565.13,273.61 C566.39,275.07 567.29,275.33 567.72,275.67 C568.42,275.61 570.07,275.37 571.89,275.31 C573.71,275.25 576.69,275.09 578.65,275.31 C580.60,275.53 581.65,275.76 583.60,276.65 C585.55,277.55 588.10,279.23 590.36,280.68 C592.61,282.13 594.32,283.57 597.11,285.33 C599.91,287.09 603.77,289.56 607.13,291.24 C610.49,292.93 613.91,294.20 617.27,295.45 C620.63,296.70 623.93,297.86 627.29,298.76 C630.65,299.65 634.06,300.25 637.42,300.82 C640.78,301.38 644.80,301.88 647.44,302.16 C650.09,302.44 652.32,302.46 653.30,302.52" fill="none" stroke="#3D9A88" stroke-width="1.05" stroke-linejoin="round"/>
<path d="M583.60,276.65 C584.33,277.04 586.72,278.01 587.99,278.98 C589.27,279.95 589.25,280.41 591.26,282.47 C593.27,284.53 597.11,288.84 600.04,291.33 C602.97,293.82 605.91,295.82 608.82,297.42 C611.73,299.01 614.79,300.03 617.49,300.91 C620.20,301.79 622.28,302.18 625.04,302.70 C627.80,303.22 630.87,303.68 634.05,304.04 C637.22,304.40 640.86,304.65 644.07,304.85 C647.28,305.04 651.76,305.14 653.30,305.20" fill="none" stroke="#3D9A88" stroke-width="0.8" stroke-dasharray="2.6,0.7" opacity="0.85"/>
<path d="M567.72,275.67 C568.70,277.07 571.48,281.22 573.58,284.08 C575.68,286.95 578.10,290.09 580.34,292.85 C582.57,295.61 584.75,298.55 586.98,300.64 C589.21,302.73 591.48,304.13 593.73,305.38 C595.99,306.64 597.69,307.26 600.49,308.16 C603.29,309.05 607.17,310.11 610.51,310.75 C613.85,311.39 616.61,311.66 620.53,312.01 C624.46,312.35 628.58,312.60 634.05,312.81 C639.51,313.02 650.09,313.18 653.30,313.26" fill="none" stroke="#3D9A88" stroke-width="0.95" stroke-dasharray="2.8,3.0"/>
<rect x="144.18" y="377.60" width="5.66" height="89.30" fill="#E4E4E4"/>
<rect x="149.84" y="377.60" width="9.06" height="89.30" fill="#ECECEC"/>
<rect x="158.90" y="377.60" width="7.92" height="89.30" fill="#F3F3F3"/>
<path d="M98.90,377.60 V466.90 H212.10" fill="none" stroke="#CFCFCF" stroke-width="0.9"/>
<path d="M98.90,466.90 v-1.5" stroke="#CFCFCF" stroke-width="0.6"/>
<text x="98.90" y="475.50" font-size="7.00" fill="#1e1e1e" text-anchor="middle" stroke="#1e1e1e" stroke-width="0.1">0</text>
<path d="M121.54,466.90 v-1.5" stroke="#CFCFCF" stroke-width="0.6"/>
<text x="121.54" y="475.50" font-size="7.00" fill="#1e1e1e" text-anchor="middle" stroke="#1e1e1e" stroke-width="0.1">2</text>
<path d="M144.18,466.90 v-1.5" stroke="#CFCFCF" stroke-width="0.6"/>
<text x="144.18" y="475.50" font-size="7.00" fill="#1e1e1e" text-anchor="middle" stroke="#1e1e1e" stroke-width="0.1">4</text>
<path d="M166.82,466.90 v-1.5" stroke="#CFCFCF" stroke-width="0.6"/>
<text x="166.82" y="475.50" font-size="7.00" fill="#1e1e1e" text-anchor="middle" stroke="#1e1e1e" stroke-width="0.1">6</text>
<path d="M189.46,466.90 v-1.5" stroke="#CFCFCF" stroke-width="0.6"/>
<text x="189.46" y="475.50" font-size="7.00" fill="#1e1e1e" text-anchor="middle" stroke="#1e1e1e" stroke-width="0.1">8</text>
<path d="M212.10,466.90 v-1.5" stroke="#CFCFCF" stroke-width="0.6"/>
<text x="212.10" y="475.50" font-size="7.00" fill="#1e1e1e" text-anchor="middle" stroke="#1e1e1e" stroke-width="0.1">10</text>
<path d="M98.90,466.90 h1.5" stroke="#CFCFCF" stroke-width="0.6"/>
<text x="96.90" y="469.40" font-size="7.00" fill="#1e1e1e" text-anchor="end" stroke="#1e1e1e" stroke-width="0.1">0</text>
<path d="M98.90,422.25 h1.5" stroke="#CFCFCF" stroke-width="0.6"/>
<text x="96.90" y="424.75" font-size="7.00" fill="#1e1e1e" text-anchor="end" stroke="#1e1e1e" stroke-width="0.1">0.5</text>
<path d="M98.90,377.60 h1.5" stroke="#CFCFCF" stroke-width="0.6"/>
<text x="96.90" y="380.10" font-size="7.00" fill="#1e1e1e" text-anchor="end" stroke="#1e1e1e" stroke-width="0.1">1</text>
<path d="M98.90,449.93 L144.18,452.43 L166.82,427.34 C170.59,428.08 181.91,430.42 189.46,431.81 C197.01,433.19 208.33,435.01 212.10,435.64" fill="none" stroke="#CC3D9F" stroke-width="1.05" stroke-linejoin="round"/>
<path d="M160.03,436.98 C164.37,437.65 177.39,439.74 186.06,441.00 C194.74,442.27 207.76,443.98 212.10,444.57" fill="none" stroke="#CC3D9F" stroke-width="0.8" stroke-dasharray="2.6,0.7" opacity="0.85"/>
<path d="M150.41,446.90 C155.59,447.30 171.25,448.53 181.54,449.31 C191.82,450.08 207.01,451.17 212.10,451.54" fill="none" stroke="#CC3D9F" stroke-width="0.95" stroke-dasharray="2.8,3.0"/>
<rect x="290.52" y="378.50" width="5.64" height="88.70" fill="#E4E4E4"/>
<rect x="296.16" y="378.50" width="9.02" height="88.70" fill="#ECECEC"/>
<rect x="305.18" y="378.50" width="7.90" height="88.70" fill="#F3F3F3"/>
<path d="M245.40,378.50 V467.20 H358.20" fill="none" stroke="#CFCFCF" stroke-width="0.9"/>
<path d="M245.40,467.20 v-1.5" stroke="#CFCFCF" stroke-width="0.6"/>
<text x="245.40" y="475.80" font-size="7.00" fill="#1e1e1e" text-anchor="middle" stroke="#1e1e1e" stroke-width="0.1">0</text>
<path d="M267.96,467.20 v-1.5" stroke="#CFCFCF" stroke-width="0.6"/>
<text x="267.96" y="475.80" font-size="7.00" fill="#1e1e1e" text-anchor="middle" stroke="#1e1e1e" stroke-width="0.1">2</text>
<path d="M290.52,467.20 v-1.5" stroke="#CFCFCF" stroke-width="0.6"/>
<text x="290.52" y="475.80" font-size="7.00" fill="#1e1e1e" text-anchor="middle" stroke="#1e1e1e" stroke-width="0.1">4</text>
<path d="M313.08,467.20 v-1.5" stroke="#CFCFCF" stroke-width="0.6"/>
<text x="313.08" y="475.80" font-size="7.00" fill="#1e1e1e" text-anchor="middle" stroke="#1e1e1e" stroke-width="0.1">6</text>
<path d="M335.64,467.20 v-1.5" stroke="#CFCFCF" stroke-width="0.6"/>
<text x="335.64" y="475.80" font-size="7.00" fill="#1e1e1e" text-anchor="middle" stroke="#1e1e1e" stroke-width="0.1">8</text>
<path d="M358.20,467.20 v-1.5" stroke="#CFCFCF" stroke-width="0.6"/>
<text x="358.20" y="475.80" font-size="7.00" fill="#1e1e1e" text-anchor="middle" stroke="#1e1e1e" stroke-width="0.1">10</text>
<path d="M245.40,467.20 h1.5" stroke="#CFCFCF" stroke-width="0.6"/>
<text x="243.40" y="469.70" font-size="7.00" fill="#1e1e1e" text-anchor="end" stroke="#1e1e1e" stroke-width="0.1">0</text>
<path d="M245.40,422.85 h1.5" stroke="#CFCFCF" stroke-width="0.6"/>
<text x="243.40" y="425.35" font-size="7.00" fill="#1e1e1e" text-anchor="end" stroke="#1e1e1e" stroke-width="0.1">0.5</text>
<path d="M245.40,378.50 h1.5" stroke="#CFCFCF" stroke-width="0.6"/>
<text x="243.40" y="381.00" font-size="7.00" fill="#1e1e1e" text-anchor="end" stroke="#1e1e1e" stroke-width="0.1">1</text>
<path d="M245.40,450.79 C249.16,450.72 260.36,450.44 267.96,450.35 C275.56,450.26 287.14,450.27 290.97,450.26 C291.80,449.76 294.19,448.38 295.93,447.24 C297.68,446.10 299.54,444.67 301.46,443.43 C303.38,442.19 306.44,440.40 307.44,439.79 C307.80,438.85 308.76,436.15 309.58,434.11 C310.41,432.07 311.29,429.19 312.40,427.55 C313.51,425.91 314.96,424.68 316.24,424.27 C317.52,423.86 318.34,424.25 320.07,425.07 C321.80,425.88 324.44,427.92 326.62,429.15 C328.80,430.37 330.98,431.51 333.16,432.43 C335.34,433.35 337.50,434.06 339.70,434.65 C341.90,435.24 344.16,435.65 346.36,435.98 C348.56,436.30 350.92,436.44 352.90,436.60 C354.87,436.76 357.32,436.89 358.20,436.95" fill="none" stroke="#EC8A32" stroke-width="1.05" stroke-linejoin="round"/>
<path d="M307.44,439.97 C308.44,440.35 311.31,441.46 313.42,442.28 C315.52,443.09 317.87,444.11 320.07,444.85 C322.27,445.59 324.25,446.16 326.62,446.71 C328.98,447.26 331.73,447.77 334.29,448.13 C336.84,448.48 339.23,448.59 341.96,448.84 C344.68,449.09 347.94,449.42 350.64,449.64 C353.35,449.86 356.94,450.08 358.20,450.17" fill="none" stroke="#EC8A32" stroke-width="0.8" stroke-dasharray="2.6,0.7" opacity="0.85"/>
<path d="M299.21,446.36 C300.48,446.46 304.13,446.68 306.88,446.98 C309.62,447.27 312.76,447.76 315.67,448.13 C318.59,448.50 321.45,448.88 324.36,449.19 C327.27,449.50 330.23,449.77 333.16,449.99 C336.09,450.21 339.04,450.38 341.96,450.52 C344.87,450.67 347.94,450.81 350.64,450.88 C353.35,450.95 356.94,450.95 358.20,450.97" fill="none" stroke="#EC8A32" stroke-width="0.95" stroke-dasharray="2.8,3.0"/>
<rect x="441.16" y="378.50" width="5.65" height="88.70" fill="#E4E4E4"/>
<rect x="446.81" y="378.50" width="9.03" height="88.70" fill="#ECECEC"/>
<rect x="455.84" y="378.50" width="7.90" height="88.70" fill="#F3F3F3"/>
<path d="M396.00,378.50 V467.20 H508.90" fill="none" stroke="#CFCFCF" stroke-width="0.9"/>
<path d="M396.00,467.20 v-1.5" stroke="#CFCFCF" stroke-width="0.6"/>
<text x="396.00" y="475.80" font-size="7.00" fill="#1e1e1e" text-anchor="middle" stroke="#1e1e1e" stroke-width="0.1">0</text>
<path d="M418.58,467.20 v-1.5" stroke="#CFCFCF" stroke-width="0.6"/>
<text x="418.58" y="475.80" font-size="7.00" fill="#1e1e1e" text-anchor="middle" stroke="#1e1e1e" stroke-width="0.1">2</text>
<path d="M441.16,467.20 v-1.5" stroke="#CFCFCF" stroke-width="0.6"/>
<text x="441.16" y="475.80" font-size="7.00" fill="#1e1e1e" text-anchor="middle" stroke="#1e1e1e" stroke-width="0.1">4</text>
<path d="M463.74,467.20 v-1.5" stroke="#CFCFCF" stroke-width="0.6"/>
<text x="463.74" y="475.80" font-size="7.00" fill="#1e1e1e" text-anchor="middle" stroke="#1e1e1e" stroke-width="0.1">6</text>
<path d="M486.32,467.20 v-1.5" stroke="#CFCFCF" stroke-width="0.6"/>
<text x="486.32" y="475.80" font-size="7.00" fill="#1e1e1e" text-anchor="middle" stroke="#1e1e1e" stroke-width="0.1">8</text>
<path d="M508.90,467.20 v-1.5" stroke="#CFCFCF" stroke-width="0.6"/>
<text x="508.90" y="475.80" font-size="7.00" fill="#1e1e1e" text-anchor="middle" stroke="#1e1e1e" stroke-width="0.1">10</text>
<path d="M396.00,467.20 h1.5" stroke="#CFCFCF" stroke-width="0.6"/>
<text x="394.00" y="469.70" font-size="7.00" fill="#1e1e1e" text-anchor="end" stroke="#1e1e1e" stroke-width="0.1">0</text>
<path d="M396.00,422.85 h1.5" stroke="#CFCFCF" stroke-width="0.6"/>
<text x="394.00" y="425.35" font-size="7.00" fill="#1e1e1e" text-anchor="end" stroke="#1e1e1e" stroke-width="0.1">0.5</text>
<path d="M396.00,378.50 h1.5" stroke="#CFCFCF" stroke-width="0.6"/>
<text x="394.00" y="381.00" font-size="7.00" fill="#1e1e1e" text-anchor="end" stroke="#1e1e1e" stroke-width="0.1">1</text>
<path d="M396.00,450.97 C397.13,451.75 400.37,454.19 402.77,455.67 C405.18,457.15 407.70,458.71 410.45,459.84 C413.20,460.96 416.34,461.73 419.26,462.41 C422.17,463.09 424.17,463.49 427.95,463.92 C431.73,464.35 437.87,464.78 441.95,464.98 C446.03,465.19 448.97,465.16 452.45,465.16 C455.93,465.16 458.19,465.09 462.84,464.98 C467.48,464.88 472.66,464.63 480.34,464.54 C488.01,464.45 504.14,464.47 508.90,464.45" fill="none" stroke="#4A8FD6" stroke-width="1.05" stroke-linejoin="round"/>
<path d="M458.09,465.07 C460.92,465.03 469.38,464.85 475.03,464.81 C480.67,464.76 486.32,464.79 491.96,464.81 C497.61,464.82 506.08,464.88 508.90,464.89" fill="none" stroke="#4A8FD6" stroke-width="0.8" stroke-dasharray="2.6,0.7" opacity="0.85"/>
<path d="M450.19,465.25 C454.33,465.28 465.25,465.35 475.03,465.43 C484.81,465.50 503.25,465.65 508.90,465.69" fill="none" stroke="#4A8FD6" stroke-width="0.95" stroke-dasharray="2.8,3.0"/>
<rect x="586.12" y="378.90" width="5.64" height="89.50" fill="#E4E4E4"/>
<rect x="591.76" y="378.90" width="9.02" height="89.50" fill="#ECECEC"/>
<rect x="600.78" y="378.90" width="7.90" height="89.50" fill="#F3F3F3"/>
<path d="M541.00,378.90 V468.40 H653.80" fill="none" stroke="#CFCFCF" stroke-width="0.9"/>
<path d="M541.00,468.40 v-1.5" stroke="#CFCFCF" stroke-width="0.6"/>
<text x="541.00" y="477.00" font-size="7.00" fill="#1e1e1e" text-anchor="middle" stroke="#1e1e1e" stroke-width="0.1">0</text>
<path d="M563.56,468.40 v-1.5" stroke="#CFCFCF" stroke-width="0.6"/>
<text x="563.56" y="477.00" font-size="7.00" fill="#1e1e1e" text-anchor="middle" stroke="#1e1e1e" stroke-width="0.1">2</text>
<path d="M586.12,468.40 v-1.5" stroke="#CFCFCF" stroke-width="0.6"/>
<text x="586.12" y="477.00" font-size="7.00" fill="#1e1e1e" text-anchor="middle" stroke="#1e1e1e" stroke-width="0.1">4</text>
<path d="M608.68,468.40 v-1.5" stroke="#CFCFCF" stroke-width="0.6"/>
<text x="608.68" y="477.00" font-size="7.00" fill="#1e1e1e" text-anchor="middle" stroke="#1e1e1e" stroke-width="0.1">6</text>
<path d="M631.24,468.40 v-1.5" stroke="#CFCFCF" stroke-width="0.6"/>
<text x="631.24" y="477.00" font-size="7.00" fill="#1e1e1e" text-anchor="middle" stroke="#1e1e1e" stroke-width="0.1">8</text>
<path d="M653.80,468.40 v-1.5" stroke="#CFCFCF" stroke-width="0.6"/>
<text x="653.80" y="477.00" font-size="7.00" fill="#1e1e1e" text-anchor="middle" stroke="#1e1e1e" stroke-width="0.1">10</text>
<path d="M541.00,468.40 h1.5" stroke="#CFCFCF" stroke-width="0.6"/>
<text x="539.00" y="470.90" font-size="7.00" fill="#1e1e1e" text-anchor="end" stroke="#1e1e1e" stroke-width="0.1">0</text>
<path d="M541.00,423.65 h1.5" stroke="#CFCFCF" stroke-width="0.6"/>
<text x="539.00" y="426.15" font-size="7.00" fill="#1e1e1e" text-anchor="end" stroke="#1e1e1e" stroke-width="0.1">0.5</text>
<path d="M541.00,378.90 h1.5" stroke="#CFCFCF" stroke-width="0.6"/>
<text x="539.00" y="381.40" font-size="7.00" fill="#1e1e1e" text-anchor="end" stroke="#1e1e1e" stroke-width="0.1">1</text>
<path d="M541.00,378.90 C541.96,379.45 544.68,380.12 546.75,382.21 C548.82,384.30 551.17,387.79 553.41,391.43 C555.65,395.07 557.94,399.71 560.18,404.05 C562.41,408.39 564.59,413.13 566.83,417.47 C569.07,421.82 571.36,426.32 573.60,430.09 C575.84,433.87 578.02,437.55 580.25,440.12 C582.49,442.68 585.05,444.31 587.02,445.49 C589.00,446.67 590.14,447.04 592.10,447.19 C594.05,447.34 596.67,446.77 598.75,446.38 C600.84,446.00 602.95,445.76 604.62,444.86 C606.29,443.97 607.25,442.22 608.79,441.01 C610.33,439.80 612.18,438.18 613.87,437.61 C615.56,437.05 616.71,437.24 618.94,437.61 C621.18,437.98 624.23,439.09 627.29,439.85 C630.36,440.61 633.97,441.51 637.33,442.18 C640.70,442.85 644.74,443.49 647.48,443.88 C650.23,444.26 652.75,444.40 653.80,444.50" fill="none" stroke="#3D9A88" stroke-width="1.05" stroke-linejoin="round"/>
<path d="M604.62,445.04 C605.88,445.40 609.24,446.55 612.18,447.19 C615.11,447.83 618.85,448.38 622.22,448.89 C625.58,449.40 629.00,449.87 632.37,450.23 C635.73,450.59 638.84,450.81 642.41,451.04 C645.98,451.26 651.90,451.48 653.80,451.57" fill="none" stroke="#3D9A88" stroke-width="0.8" stroke-dasharray="2.6,0.7" opacity="0.85"/>
<path d="M598.75,447.28 C600.43,447.64 605.43,448.84 608.79,449.43 C612.16,450.01 615.58,450.35 618.94,450.77 C622.31,451.19 625.36,451.63 628.98,451.93 C632.61,452.23 636.58,452.33 640.72,452.56 C644.85,452.78 651.62,453.16 653.80,453.27" fill="none" stroke="#3D9A88" stroke-width="0.95" stroke-dasharray="2.8,3.0"/>
<rect x="107.70" y="768.20" width="11.30" height="88.90" fill="#E4E4E4"/>
<rect x="119.00" y="768.20" width="22.60" height="88.90" fill="#ECECEC"/>
<rect x="141.60" y="768.20" width="22.60" height="88.90" fill="#F3F3F3"/>
<path d="M96.40,768.20 V857.10 H209.40" fill="none" stroke="#CFCFCF" stroke-width="0.9"/>
<path d="M96.40,857.10 v-1.5" stroke="#CFCFCF" stroke-width="0.6"/>
<text x="96.40" y="865.70" font-size="7.00" fill="#1e1e1e" text-anchor="middle" stroke="#1e1e1e" stroke-width="0.1">0</text>
<path d="M119.00,857.10 v-1.5" stroke="#CFCFCF" stroke-width="0.6"/>
<text x="119.00" y="865.70" font-size="7.00" fill="#1e1e1e" text-anchor="middle" stroke="#1e1e1e" stroke-width="0.1">2</text>
<path d="M141.60,857.10 v-1.5" stroke="#CFCFCF" stroke-width="0.6"/>
<text x="141.60" y="865.70" font-size="7.00" fill="#1e1e1e" text-anchor="middle" stroke="#1e1e1e" stroke-width="0.1">4</text>
<path d="M164.20,857.10 v-1.5" stroke="#CFCFCF" stroke-width="0.6"/>
<text x="164.20" y="865.70" font-size="7.00" fill="#1e1e1e" text-anchor="middle" stroke="#1e1e1e" stroke-width="0.1">6</text>
<path d="M186.80,857.10 v-1.5" stroke="#CFCFCF" stroke-width="0.6"/>
<text x="186.80" y="865.70" font-size="7.00" fill="#1e1e1e" text-anchor="middle" stroke="#1e1e1e" stroke-width="0.1">8</text>
<path d="M209.40,857.10 v-1.5" stroke="#CFCFCF" stroke-width="0.6"/>
<text x="209.40" y="865.70" font-size="7.00" fill="#1e1e1e" text-anchor="middle" stroke="#1e1e1e" stroke-width="0.1">10</text>
<path d="M96.40,857.10 h1.5" stroke="#CFCFCF" stroke-width="0.6"/>
<text x="94.40" y="859.60" font-size="7.00" fill="#1e1e1e" text-anchor="end" stroke="#1e1e1e" stroke-width="0.1">0</text>
<path d="M96.40,812.65 h1.5" stroke="#CFCFCF" stroke-width="0.6"/>
<text x="94.40" y="815.15" font-size="7.00" fill="#1e1e1e" text-anchor="end" stroke="#1e1e1e" stroke-width="0.1">0.5</text>
<path d="M96.40,768.20 h1.5" stroke="#CFCFCF" stroke-width="0.6"/>
<text x="94.40" y="770.70" font-size="7.00" fill="#1e1e1e" text-anchor="end" stroke="#1e1e1e" stroke-width="0.1">1</text>
<path d="M96.40,840.12 L107.14,841.28 C109.04,839.19 114.69,833.50 118.55,828.74 C122.41,823.98 126.53,817.64 130.30,812.74 C134.07,807.83 137.51,803.03 141.15,799.32 C144.78,795.60 148.32,792.80 152.11,790.43 C155.89,788.05 161.90,785.98 163.86,785.09 C165.54,785.79 170.28,787.88 173.92,789.27 C177.55,790.66 181.75,792.13 185.67,793.45 C189.59,794.77 193.47,796.06 197.42,797.18 C201.38,798.31 207.40,799.70 209.40,800.20" fill="none" stroke="#CC3D9F" stroke-width="1.05" stroke-linejoin="round"/>
<path d="M141.15,799.14 C142.97,799.45 148.32,800.32 152.11,801.00 C155.89,801.69 159.94,802.53 163.86,803.23 C167.78,803.92 171.70,804.52 175.61,805.18 C179.53,805.85 183.45,806.66 187.37,807.23 C191.28,807.79 195.44,808.19 199.12,808.56 C202.79,808.93 207.69,809.30 209.40,809.45" fill="none" stroke="#CC3D9F" stroke-width="0.8" stroke-dasharray="2.6,0.7" opacity="0.85"/>
<path d="M119.34,828.74 C122.28,828.59 131.22,828.19 136.97,827.85 C142.71,827.51 148.21,826.98 153.80,826.70 C159.40,826.41 164.93,826.33 170.53,826.16 C176.12,826.00 180.89,825.85 187.37,825.72 C193.84,825.58 205.73,825.42 209.40,825.36" fill="none" stroke="#CC3D9F" stroke-width="0.95" stroke-dasharray="2.8,3.0"/>
<rect x="256.68" y="768.60" width="11.28" height="88.70" fill="#E4E4E4"/>
<rect x="267.96" y="768.60" width="22.56" height="88.70" fill="#ECECEC"/>
<rect x="290.52" y="768.60" width="22.56" height="88.70" fill="#F3F3F3"/>
<path d="M245.40,768.60 V857.30 H358.20" fill="none" stroke="#CFCFCF" stroke-width="0.9"/>
<path d="M245.40,857.30 v-1.5" stroke="#CFCFCF" stroke-width="0.6"/>
<text x="245.40" y="865.90" font-size="7.00" fill="#1e1e1e" text-anchor="middle" stroke="#1e1e1e" stroke-width="0.1">0</text>
<path d="M267.96,857.30 v-1.5" stroke="#CFCFCF" stroke-width="0.6"/>
<text x="267.96" y="865.90" font-size="7.00" fill="#1e1e1e" text-anchor="middle" stroke="#1e1e1e" stroke-width="0.1">2</text>
<path d="M290.52,857.30 v-1.5" stroke="#CFCFCF" stroke-width="0.6"/>
<text x="290.52" y="865.90" font-size="7.00" fill="#1e1e1e" text-anchor="middle" stroke="#1e1e1e" stroke-width="0.1">4</text>
<path d="M313.08,857.30 v-1.5" stroke="#CFCFCF" stroke-width="0.6"/>
<text x="313.08" y="865.90" font-size="7.00" fill="#1e1e1e" text-anchor="middle" stroke="#1e1e1e" stroke-width="0.1">6</text>
<path d="M335.64,857.30 v-1.5" stroke="#CFCFCF" stroke-width="0.6"/>
<text x="335.64" y="865.90" font-size="7.00" fill="#1e1e1e" text-anchor="middle" stroke="#1e1e1e" stroke-width="0.1">8</text>
<path d="M358.20,857.30 v-1.5" stroke="#CFCFCF" stroke-width="0.6"/>
<text x="358.20" y="865.90" font-size="7.00" fill="#1e1e1e" text-anchor="middle" stroke="#1e1e1e" stroke-width="0.1">10</text>
<path d="M245.40,857.30 h1.5" stroke="#CFCFCF" stroke-width="0.6"/>
<text x="243.40" y="859.80" font-size="7.00" fill="#1e1e1e" text-anchor="end" stroke="#1e1e1e" stroke-width="0.1">0</text>
<path d="M245.40,812.95 h1.5" stroke="#CFCFCF" stroke-width="0.6"/>
<text x="243.40" y="815.45" font-size="7.00" fill="#1e1e1e" text-anchor="end" stroke="#1e1e1e" stroke-width="0.1">0.5</text>
<path d="M245.40,768.60 h1.5" stroke="#CFCFCF" stroke-width="0.6"/>
<text x="243.40" y="771.10" font-size="7.00" fill="#1e1e1e" text-anchor="end" stroke="#1e1e1e" stroke-width="0.1">1</text>
<path d="M245.40,841.33 L257.70,840.71 C258.65,840.08 261.42,838.66 263.45,836.90 C265.48,835.14 268.81,831.28 269.88,830.16 C270.22,828.77 271.10,824.81 271.91,821.82 C272.72,818.83 273.56,815.23 274.73,812.24 C275.89,809.25 277.53,805.99 278.90,803.90 C280.27,801.82 281.70,800.67 282.96,799.73 C284.22,798.80 285.20,798.43 286.46,798.31 C287.72,798.20 289.02,798.45 290.52,799.02 C292.02,799.60 293.26,800.40 295.48,801.77 C297.70,803.15 300.82,805.41 303.83,807.27 C306.84,809.14 310.30,811.09 313.53,812.95 C316.76,814.81 320.22,816.97 323.23,818.45 C326.24,819.93 328.33,820.89 331.58,821.82 C334.83,822.75 338.31,823.51 342.75,824.04 C347.18,824.57 355.62,824.85 358.20,825.01" fill="none" stroke="#EC8A32" stroke-width="1.05" stroke-linejoin="round"/>
<path d="M290.52,799.02 C291.59,800.07 294.73,803.24 296.95,805.32 C299.17,807.41 301.52,809.68 303.83,811.53 C306.14,813.38 308.04,814.92 310.82,816.41 C313.61,817.90 317.29,819.34 320.52,820.49 C323.76,821.64 326.52,822.68 330.23,823.33 C333.93,823.98 338.08,824.11 342.75,824.39 C347.41,824.67 355.62,824.91 358.20,825.01" fill="none" stroke="#EC8A32" stroke-width="0.8" stroke-dasharray="2.6,0.7" opacity="0.85"/>
<path d="M269.88,830.16 C271.16,830.01 274.90,829.27 277.55,829.27 C280.20,829.27 282.79,829.54 285.78,830.16 C288.77,830.78 292.01,832.17 295.48,833.00 C298.96,833.82 302.48,834.50 306.65,835.12 C310.82,835.75 315.92,836.34 320.52,836.72 C325.13,837.11 328.01,837.28 334.29,837.43 C340.57,837.58 354.21,837.58 358.20,837.61" fill="none" stroke="#EC8A32" stroke-width="0.95" stroke-dasharray="2.8,3.0"/>
<rect x="405.88" y="768.20" width="11.28" height="89.10" fill="#E4E4E4"/>
<rect x="417.16" y="768.20" width="22.56" height="89.10" fill="#ECECEC"/>
<rect x="439.72" y="768.20" width="22.56" height="89.10" fill="#F3F3F3"/>
<path d="M394.60,768.20 V857.30 H507.40" fill="none" stroke="#CFCFCF" stroke-width="0.9"/>
<path d="M394.60,857.30 v-1.5" stroke="#CFCFCF" stroke-width="0.6"/>
<text x="394.60" y="865.90" font-size="7.00" fill="#1e1e1e" text-anchor="middle" stroke="#1e1e1e" stroke-width="0.1">0</text>
<path d="M417.16,857.30 v-1.5" stroke="#CFCFCF" stroke-width="0.6"/>
<text x="417.16" y="865.90" font-size="7.00" fill="#1e1e1e" text-anchor="middle" stroke="#1e1e1e" stroke-width="0.1">2</text>
<path d="M439.72,857.30 v-1.5" stroke="#CFCFCF" stroke-width="0.6"/>
<text x="439.72" y="865.90" font-size="7.00" fill="#1e1e1e" text-anchor="middle" stroke="#1e1e1e" stroke-width="0.1">4</text>
<path d="M462.28,857.30 v-1.5" stroke="#CFCFCF" stroke-width="0.6"/>
<text x="462.28" y="865.90" font-size="7.00" fill="#1e1e1e" text-anchor="middle" stroke="#1e1e1e" stroke-width="0.1">6</text>
<path d="M484.84,857.30 v-1.5" stroke="#CFCFCF" stroke-width="0.6"/>
<text x="484.84" y="865.90" font-size="7.00" fill="#1e1e1e" text-anchor="middle" stroke="#1e1e1e" stroke-width="0.1">8</text>
<path d="M507.40,857.30 v-1.5" stroke="#CFCFCF" stroke-width="0.6"/>
<text x="507.40" y="865.90" font-size="7.00" fill="#1e1e1e" text-anchor="middle" stroke="#1e1e1e" stroke-width="0.1">10</text>
<path d="M394.60,857.30 h1.5" stroke="#CFCFCF" stroke-width="0.6"/>
<text x="392.60" y="859.80" font-size="7.00" fill="#1e1e1e" text-anchor="end" stroke="#1e1e1e" stroke-width="0.1">0</text>
<path d="M394.60,812.75 h1.5" stroke="#CFCFCF" stroke-width="0.6"/>
<text x="392.60" y="815.25" font-size="7.00" fill="#1e1e1e" text-anchor="end" stroke="#1e1e1e" stroke-width="0.1">0.5</text>
<path d="M394.60,768.20 h1.5" stroke="#CFCFCF" stroke-width="0.6"/>
<text x="392.60" y="770.70" font-size="7.00" fill="#1e1e1e" text-anchor="end" stroke="#1e1e1e" stroke-width="0.1">1</text>
<path d="M394.60,840.99 C395.54,841.63 398.36,843.67 400.24,844.83 C402.12,845.98 404.00,847.04 405.88,847.94 C407.76,848.85 409.47,849.58 411.52,850.26 C413.57,850.94 415.62,851.57 418.18,852.04 C420.73,852.52 423.27,852.86 426.86,853.11 C430.45,853.36 435.70,853.59 439.72,853.56 C443.74,853.53 447.24,853.13 451.00,852.93 C454.76,852.74 458.52,852.56 462.28,852.40 C466.04,852.24 469.80,852.00 473.56,851.95 C477.32,851.91 479.20,852.01 484.84,852.13 C490.48,852.25 503.64,852.58 507.40,852.67" fill="none" stroke="#4A8FD6" stroke-width="1.05" stroke-linejoin="round"/>
<path d="M434.08,853.56 C436.90,853.51 444.42,853.41 451.00,853.29 C457.58,853.17 464.16,852.84 473.56,852.84 C482.96,852.84 501.76,853.22 507.40,853.29" fill="none" stroke="#4A8FD6" stroke-width="0.8" stroke-dasharray="2.6,0.7" opacity="0.85"/>
<path d="M428.44,853.29 C431.26,853.51 437.84,854.37 445.36,854.63 C452.88,854.88 463.22,854.76 473.56,854.81 C483.90,854.85 501.76,854.88 507.40,854.89" fill="none" stroke="#4A8FD6" stroke-width="0.95" stroke-dasharray="2.8,3.0"/>
<rect x="553.50" y="767.80" width="11.30" height="88.60" fill="#E4E4E4"/>
<rect x="564.80" y="767.80" width="22.60" height="88.60" fill="#ECECEC"/>
<rect x="587.40" y="767.80" width="22.60" height="88.60" fill="#F3F3F3"/>
<path d="M542.20,767.80 V856.40 H655.20" fill="none" stroke="#CFCFCF" stroke-width="0.9"/>
<path d="M542.20,856.40 v-1.5" stroke="#CFCFCF" stroke-width="0.6"/>
<text x="542.20" y="865.00" font-size="7.00" fill="#1e1e1e" text-anchor="middle" stroke="#1e1e1e" stroke-width="0.1">0</text>
<path d="M564.80,856.40 v-1.5" stroke="#CFCFCF" stroke-width="0.6"/>
<text x="564.80" y="865.00" font-size="7.00" fill="#1e1e1e" text-anchor="middle" stroke="#1e1e1e" stroke-width="0.1">2</text>
<path d="M587.40,856.40 v-1.5" stroke="#CFCFCF" stroke-width="0.6"/>
<text x="587.40" y="865.00" font-size="7.00" fill="#1e1e1e" text-anchor="middle" stroke="#1e1e1e" stroke-width="0.1">4</text>
<path d="M610.00,856.40 v-1.5" stroke="#CFCFCF" stroke-width="0.6"/>
<text x="610.00" y="865.00" font-size="7.00" fill="#1e1e1e" text-anchor="middle" stroke="#1e1e1e" stroke-width="0.1">6</text>
<path d="M632.60,856.40 v-1.5" stroke="#CFCFCF" stroke-width="0.6"/>
<text x="632.60" y="865.00" font-size="7.00" fill="#1e1e1e" text-anchor="middle" stroke="#1e1e1e" stroke-width="0.1">8</text>
<path d="M655.20,856.40 v-1.5" stroke="#CFCFCF" stroke-width="0.6"/>
<text x="655.20" y="865.00" font-size="7.00" fill="#1e1e1e" text-anchor="middle" stroke="#1e1e1e" stroke-width="0.1">10</text>
<path d="M542.20,856.40 h1.5" stroke="#CFCFCF" stroke-width="0.6"/>
<text x="540.20" y="858.90" font-size="7.00" fill="#1e1e1e" text-anchor="end" stroke="#1e1e1e" stroke-width="0.1">0</text>
<path d="M542.20,812.10 h1.5" stroke="#CFCFCF" stroke-width="0.6"/>
<text x="540.20" y="814.60" font-size="7.00" fill="#1e1e1e" text-anchor="end" stroke="#1e1e1e" stroke-width="0.1">0.5</text>
<path d="M542.20,767.80 h1.5" stroke="#CFCFCF" stroke-width="0.6"/>
<text x="540.20" y="770.30" font-size="7.00" fill="#1e1e1e" text-anchor="end" stroke="#1e1e1e" stroke-width="0.1">1</text>
<path d="M542.20,767.80 C542.97,768.26 545.08,768.69 546.83,770.55 C548.58,772.41 550.88,776.03 552.71,778.96 C554.54,781.90 556.10,785.24 557.79,788.18 C559.49,791.12 561.26,794.22 562.88,796.59 C564.50,798.97 566.74,801.47 567.51,802.44 C568.27,802.35 570.02,802.10 572.03,801.91 C574.05,801.72 577.36,801.20 579.60,801.29 C581.84,801.38 583.52,801.60 585.48,802.44 C587.44,803.28 589.25,804.81 591.36,806.34 C593.46,807.88 595.33,809.71 598.13,811.66 C600.94,813.61 604.84,816.13 608.19,818.04 C611.54,819.94 614.90,821.62 618.25,823.09 C621.60,824.55 624.95,825.83 628.31,826.81 C631.66,827.78 635.01,828.37 638.36,828.93 C641.72,829.50 645.61,829.89 648.42,830.17 C651.23,830.45 654.07,830.54 655.20,830.62" fill="none" stroke="#3D9A88" stroke-width="1.05" stroke-linejoin="round"/>
<path d="M585.48,802.44 C586.36,803.08 589.11,804.94 590.79,806.25 C592.47,807.57 594.01,808.93 595.54,810.33 C597.06,811.73 598.34,813.28 599.94,814.67 C601.54,816.06 603.26,817.42 605.14,818.66 C607.02,819.90 609.06,821.02 611.24,822.11 C613.43,823.20 615.91,824.33 618.25,825.21 C620.58,826.10 622.92,826.84 625.25,827.43 C627.59,828.02 629.93,828.39 632.26,828.76 C634.60,829.13 635.44,829.35 639.27,829.64 C643.09,829.94 652.54,830.38 655.20,830.53" fill="none" stroke="#3D9A88" stroke-width="0.8" stroke-dasharray="2.6,0.7" opacity="0.85"/>
<path d="M567.51,802.44 C568.70,804.05 572.63,809.38 574.63,812.10 C576.63,814.82 577.76,816.71 579.49,818.75 C581.22,820.78 583.24,822.81 585.03,824.33 C586.82,825.85 588.32,826.70 590.23,827.87 C592.13,829.04 594.39,830.31 596.44,831.33 C598.49,832.35 600.28,833.29 602.54,833.98 C604.80,834.68 607.66,835.09 610.00,835.49 C612.34,835.89 613.50,836.07 616.55,836.38 C619.61,836.69 624.11,837.07 628.31,837.35 C632.51,837.63 637.27,837.88 641.75,838.06 C646.24,838.24 652.96,838.36 655.20,838.41" fill="none" stroke="#3D9A88" stroke-width="0.95" stroke-dasharray="2.8,3.0"/>
<rect x="142.05" y="908.10" width="5.66" height="88.90" fill="#E4E4E4"/>
<rect x="147.71" y="908.10" width="9.06" height="88.90" fill="#ECECEC"/>
<rect x="156.77" y="908.10" width="7.93" height="88.90" fill="#F3F3F3"/>
<path d="M96.75,908.10 V997.00 H210.00" fill="none" stroke="#CFCFCF" stroke-width="0.9"/>
<path d="M96.75,997.00 v-1.5" stroke="#CFCFCF" stroke-width="0.6"/>
<text x="96.75" y="1005.60" font-size="7.00" fill="#1e1e1e" text-anchor="middle" stroke="#1e1e1e" stroke-width="0.1">0</text>
<path d="M119.40,997.00 v-1.5" stroke="#CFCFCF" stroke-width="0.6"/>
<text x="119.40" y="1005.60" font-size="7.00" fill="#1e1e1e" text-anchor="middle" stroke="#1e1e1e" stroke-width="0.1">2</text>
<path d="M142.05,997.00 v-1.5" stroke="#CFCFCF" stroke-width="0.6"/>
<text x="142.05" y="1005.60" font-size="7.00" fill="#1e1e1e" text-anchor="middle" stroke="#1e1e1e" stroke-width="0.1">4</text>
<path d="M164.70,997.00 v-1.5" stroke="#CFCFCF" stroke-width="0.6"/>
<text x="164.70" y="1005.60" font-size="7.00" fill="#1e1e1e" text-anchor="middle" stroke="#1e1e1e" stroke-width="0.1">6</text>
<path d="M187.35,997.00 v-1.5" stroke="#CFCFCF" stroke-width="0.6"/>
<text x="187.35" y="1005.60" font-size="7.00" fill="#1e1e1e" text-anchor="middle" stroke="#1e1e1e" stroke-width="0.1">8</text>
<path d="M210.00,997.00 v-1.5" stroke="#CFCFCF" stroke-width="0.6"/>
<text x="210.00" y="1005.60" font-size="7.00" fill="#1e1e1e" text-anchor="middle" stroke="#1e1e1e" stroke-width="0.1">10</text>
<path d="M96.75,997.00 h1.5" stroke="#CFCFCF" stroke-width="0.6"/>
<text x="94.75" y="999.50" font-size="7.00" fill="#1e1e1e" text-anchor="end" stroke="#1e1e1e" stroke-width="0.1">0</text>
<path d="M96.75,952.55 h1.5" stroke="#CFCFCF" stroke-width="0.6"/>
<text x="94.75" y="955.05" font-size="7.00" fill="#1e1e1e" text-anchor="end" stroke="#1e1e1e" stroke-width="0.1">0.5</text>
<path d="M96.75,908.10 h1.5" stroke="#CFCFCF" stroke-width="0.6"/>
<text x="94.75" y="910.60" font-size="7.00" fill="#1e1e1e" text-anchor="end" stroke="#1e1e1e" stroke-width="0.1">1</text>
<path d="M96.75,980.38 L142.05,982.51 L164.70,954.86 L210.00,955.39" fill="none" stroke="#CC3D9F" stroke-width="1.05" stroke-linejoin="round"/>
<path d="M156.77,965.00 C160.93,964.97 172.82,964.89 181.69,964.82 C190.56,964.74 205.28,964.60 210.00,964.55" fill="none" stroke="#CC3D9F" stroke-width="0.8" stroke-dasharray="2.6,0.7" opacity="0.85"/>
<path d="M147.71,977.18 C153.00,977.52 169.04,978.55 179.42,979.22 C189.80,979.89 204.90,980.85 210.00,981.18" fill="none" stroke="#CC3D9F" stroke-width="0.95" stroke-dasharray="2.8,3.0"/>
<rect x="291.02" y="908.50" width="5.64" height="88.70" fill="#E4E4E4"/>
<rect x="296.66" y="908.50" width="9.02" height="88.70" fill="#ECECEC"/>
<rect x="305.68" y="908.50" width="7.90" height="88.70" fill="#F3F3F3"/>
<path d="M245.90,908.50 V997.20 H358.70" fill="none" stroke="#CFCFCF" stroke-width="0.9"/>
<path d="M245.90,997.20 v-1.5" stroke="#CFCFCF" stroke-width="0.6"/>
<text x="245.90" y="1005.80" font-size="7.00" fill="#1e1e1e" text-anchor="middle" stroke="#1e1e1e" stroke-width="0.1">0</text>
<path d="M268.46,997.20 v-1.5" stroke="#CFCFCF" stroke-width="0.6"/>
<text x="268.46" y="1005.80" font-size="7.00" fill="#1e1e1e" text-anchor="middle" stroke="#1e1e1e" stroke-width="0.1">2</text>
<path d="M291.02,997.20 v-1.5" stroke="#CFCFCF" stroke-width="0.6"/>
<text x="291.02" y="1005.80" font-size="7.00" fill="#1e1e1e" text-anchor="middle" stroke="#1e1e1e" stroke-width="0.1">4</text>
<path d="M313.58,997.20 v-1.5" stroke="#CFCFCF" stroke-width="0.6"/>
<text x="313.58" y="1005.80" font-size="7.00" fill="#1e1e1e" text-anchor="middle" stroke="#1e1e1e" stroke-width="0.1">6</text>
<path d="M336.14,997.20 v-1.5" stroke="#CFCFCF" stroke-width="0.6"/>
<text x="336.14" y="1005.80" font-size="7.00" fill="#1e1e1e" text-anchor="middle" stroke="#1e1e1e" stroke-width="0.1">8</text>
<path d="M358.70,997.20 v-1.5" stroke="#CFCFCF" stroke-width="0.6"/>
<text x="358.70" y="1005.80" font-size="7.00" fill="#1e1e1e" text-anchor="middle" stroke="#1e1e1e" stroke-width="0.1">10</text>
<path d="M245.90,997.20 h1.5" stroke="#CFCFCF" stroke-width="0.6"/>
<text x="243.90" y="999.70" font-size="7.00" fill="#1e1e1e" text-anchor="end" stroke="#1e1e1e" stroke-width="0.1">0</text>
<path d="M245.90,952.85 h1.5" stroke="#CFCFCF" stroke-width="0.6"/>
<text x="243.90" y="955.35" font-size="7.00" fill="#1e1e1e" text-anchor="end" stroke="#1e1e1e" stroke-width="0.1">0.5</text>
<path d="M245.90,908.50 h1.5" stroke="#CFCFCF" stroke-width="0.6"/>
<text x="243.90" y="911.00" font-size="7.00" fill="#1e1e1e" text-anchor="end" stroke="#1e1e1e" stroke-width="0.1">1</text>
<path d="M245.90,980.35 C250.98,980.20 268.74,979.58 276.36,979.46 C283.97,979.34 289.05,979.61 291.58,979.64 C292.67,978.87 295.76,976.61 298.13,975.03 C300.50,973.44 304.52,970.96 305.80,970.15 C306.15,969.14 307.11,966.41 307.94,964.11 C308.77,961.82 309.84,958.41 310.76,956.40 C311.68,954.39 312.47,952.92 313.47,952.05 C314.46,951.18 315.46,950.99 316.74,951.16 C318.02,951.34 319.31,952.16 321.14,953.12 C322.96,954.08 325.50,955.84 327.68,956.93 C329.86,958.02 331.85,958.88 334.22,959.68 C336.59,960.48 339.15,961.17 341.89,961.72 C344.64,962.27 347.89,962.65 350.69,962.96 C353.49,963.27 357.37,963.48 358.70,963.58" fill="none" stroke="#EC8A32" stroke-width="1.05" stroke-linejoin="round"/>
<path d="M305.80,969.97 C306.72,970.04 309.31,970.03 311.32,970.41 C313.34,970.80 315.50,971.60 317.87,972.28 C320.24,972.96 322.98,973.95 325.54,974.49 C328.09,975.04 330.48,975.25 333.21,975.56 C335.93,975.87 338.98,976.16 341.89,976.36 C344.81,976.55 347.89,976.61 350.69,976.71 C353.49,976.81 357.37,976.93 358.70,976.98" fill="none" stroke="#EC8A32" stroke-width="0.8" stroke-dasharray="2.6,0.7" opacity="0.85"/>
<path d="M300.38,975.91 C301.83,976.13 306.15,976.84 309.07,977.24 C311.98,977.64 314.95,977.98 317.87,978.31 C320.78,978.63 323.64,978.94 326.55,979.19 C329.47,979.45 332.42,979.64 335.35,979.81 C338.28,979.99 341.23,980.13 344.15,980.26 C347.06,980.39 350.41,980.54 352.83,980.61 C355.26,980.69 357.72,980.69 358.70,980.70" fill="none" stroke="#EC8A32" stroke-width="0.95" stroke-dasharray="2.8,3.0"/>
<rect x="439.72" y="909.30" width="5.64" height="88.50" fill="#E4E4E4"/>
<rect x="445.36" y="909.30" width="9.02" height="88.50" fill="#ECECEC"/>
<rect x="454.38" y="909.30" width="7.90" height="88.50" fill="#F3F3F3"/>
<path d="M394.60,909.30 V997.80 H507.40" fill="none" stroke="#CFCFCF" stroke-width="0.9"/>
<path d="M394.60,997.80 v-1.5" stroke="#CFCFCF" stroke-width="0.6"/>
<text x="394.60" y="1006.40" font-size="7.00" fill="#1e1e1e" text-anchor="middle" stroke="#1e1e1e" stroke-width="0.1">0</text>
<path d="M417.16,997.80 v-1.5" stroke="#CFCFCF" stroke-width="0.6"/>
<text x="417.16" y="1006.40" font-size="7.00" fill="#1e1e1e" text-anchor="middle" stroke="#1e1e1e" stroke-width="0.1">2</text>
<path d="M439.72,997.80 v-1.5" stroke="#CFCFCF" stroke-width="0.6"/>
<text x="439.72" y="1006.40" font-size="7.00" fill="#1e1e1e" text-anchor="middle" stroke="#1e1e1e" stroke-width="0.1">4</text>
<path d="M462.28,997.80 v-1.5" stroke="#CFCFCF" stroke-width="0.6"/>
<text x="462.28" y="1006.40" font-size="7.00" fill="#1e1e1e" text-anchor="middle" stroke="#1e1e1e" stroke-width="0.1">6</text>
<path d="M484.84,997.80 v-1.5" stroke="#CFCFCF" stroke-width="0.6"/>
<text x="484.84" y="1006.40" font-size="7.00" fill="#1e1e1e" text-anchor="middle" stroke="#1e1e1e" stroke-width="0.1">8</text>
<path d="M507.40,997.80 v-1.5" stroke="#CFCFCF" stroke-width="0.6"/>
<text x="507.40" y="1006.40" font-size="7.00" fill="#1e1e1e" text-anchor="middle" stroke="#1e1e1e" stroke-width="0.1">10</text>
<path d="M394.60,997.80 h1.5" stroke="#CFCFCF" stroke-width="0.6"/>
<text x="392.60" y="1000.30" font-size="7.00" fill="#1e1e1e" text-anchor="end" stroke="#1e1e1e" stroke-width="0.1">0</text>
<path d="M394.60,953.55 h1.5" stroke="#CFCFCF" stroke-width="0.6"/>
<text x="392.60" y="956.05" font-size="7.00" fill="#1e1e1e" text-anchor="end" stroke="#1e1e1e" stroke-width="0.1">0.5</text>
<path d="M394.60,909.30 h1.5" stroke="#CFCFCF" stroke-width="0.6"/>
<text x="392.60" y="911.80" font-size="7.00" fill="#1e1e1e" text-anchor="end" stroke="#1e1e1e" stroke-width="0.1">1</text>
<path d="M394.60,981.60 C395.73,982.39 398.96,984.85 401.37,986.29 C403.77,987.74 406.29,989.17 409.04,990.28 C411.78,991.38 414.92,992.22 417.84,992.93 C420.75,993.64 422.74,994.07 426.52,994.53 C430.30,994.98 436.43,995.44 440.51,995.68 C444.59,995.91 447.37,995.94 451.00,995.94 C454.63,995.94 458.52,995.81 462.28,995.68 C466.04,995.54 469.80,995.28 473.56,995.14 C477.32,995.01 479.20,994.95 484.84,994.88 C490.48,994.81 503.64,994.73 507.40,994.70" fill="none" stroke="#4A8FD6" stroke-width="1.05" stroke-linejoin="round"/>
<path d="M456.64,995.85 C459.46,995.78 467.92,995.50 473.56,995.41 C479.20,995.32 484.84,995.34 490.48,995.32 C496.12,995.31 504.58,995.32 507.40,995.32" fill="none" stroke="#4A8FD6" stroke-width="0.8" stroke-dasharray="2.6,0.7" opacity="0.85"/>
<path d="M451.00,996.12 C454.76,996.13 464.16,996.16 473.56,996.21 C482.96,996.25 501.76,996.35 507.40,996.38" fill="none" stroke="#4A8FD6" stroke-width="0.95" stroke-dasharray="2.8,3.0"/>
<rect x="587.88" y="908.90" width="5.66" height="89.10" fill="#E4E4E4"/>
<rect x="593.54" y="908.90" width="9.06" height="89.10" fill="#ECECEC"/>
<rect x="602.60" y="908.90" width="7.92" height="89.10" fill="#F3F3F3"/>
<path d="M542.60,908.90 V998.00 H655.80" fill="none" stroke="#CFCFCF" stroke-width="0.9"/>
<path d="M542.60,998.00 v-1.5" stroke="#CFCFCF" stroke-width="0.6"/>
<text x="542.60" y="1006.60" font-size="7.00" fill="#1e1e1e" text-anchor="middle" stroke="#1e1e1e" stroke-width="0.1">0</text>
<path d="M565.24,998.00 v-1.5" stroke="#CFCFCF" stroke-width="0.6"/>
<text x="565.24" y="1006.60" font-size="7.00" fill="#1e1e1e" text-anchor="middle" stroke="#1e1e1e" stroke-width="0.1">2</text>
<path d="M587.88,998.00 v-1.5" stroke="#CFCFCF" stroke-width="0.6"/>
<text x="587.88" y="1006.60" font-size="7.00" fill="#1e1e1e" text-anchor="middle" stroke="#1e1e1e" stroke-width="0.1">4</text>
<path d="M610.52,998.00 v-1.5" stroke="#CFCFCF" stroke-width="0.6"/>
<text x="610.52" y="1006.60" font-size="7.00" fill="#1e1e1e" text-anchor="middle" stroke="#1e1e1e" stroke-width="0.1">6</text>
<path d="M633.16,998.00 v-1.5" stroke="#CFCFCF" stroke-width="0.6"/>
<text x="633.16" y="1006.60" font-size="7.00" fill="#1e1e1e" text-anchor="middle" stroke="#1e1e1e" stroke-width="0.1">8</text>
<path d="M655.80,998.00 v-1.5" stroke="#CFCFCF" stroke-width="0.6"/>
<text x="655.80" y="1006.60" font-size="7.00" fill="#1e1e1e" text-anchor="middle" stroke="#1e1e1e" stroke-width="0.1">10</text>
<path d="M542.60,998.00 h1.5" stroke="#CFCFCF" stroke-width="0.6"/>
<text x="540.60" y="1000.50" font-size="7.00" fill="#1e1e1e" text-anchor="end" stroke="#1e1e1e" stroke-width="0.1">0</text>
<path d="M542.60,953.45 h1.5" stroke="#CFCFCF" stroke-width="0.6"/>
<text x="540.60" y="955.95" font-size="7.00" fill="#1e1e1e" text-anchor="end" stroke="#1e1e1e" stroke-width="0.1">0.5</text>
<path d="M542.60,908.90 h1.5" stroke="#CFCFCF" stroke-width="0.6"/>
<text x="540.60" y="911.40" font-size="7.00" fill="#1e1e1e" text-anchor="end" stroke="#1e1e1e" stroke-width="0.1">1</text>
<path d="M542.60,908.90 C543.45,909.32 545.71,909.30 547.69,911.39 C549.68,913.49 552.24,917.54 554.49,921.46 C556.73,925.38 558.94,930.43 561.16,934.92 C563.39,939.40 565.62,944.18 567.84,948.37 C570.07,952.56 572.28,956.55 574.52,960.04 C576.77,963.53 579.07,966.84 581.31,969.31 C583.56,971.77 585.77,973.57 587.99,974.83 C590.22,976.10 592.43,976.69 594.67,976.88 C596.92,977.08 599.78,976.41 601.46,975.99 C603.14,975.58 603.35,975.50 604.75,974.39 C606.14,973.27 608.16,970.63 609.84,969.31 C611.52,967.99 613.14,967.02 614.82,966.46 C616.50,965.89 617.67,965.64 619.92,965.92 C622.16,966.21 625.22,967.45 628.29,968.15 C631.37,968.85 635.01,969.55 638.37,970.11 C641.73,970.68 645.54,971.20 648.44,971.54 C651.35,971.88 654.57,972.06 655.80,972.16" fill="none" stroke="#3D9A88" stroke-width="1.05" stroke-linejoin="round"/>
<path d="M604.75,974.66 C606.16,974.74 610.14,974.88 613.24,975.19 C616.33,975.50 619.69,976.02 623.31,976.53 C626.93,977.03 631.35,977.80 634.97,978.22 C638.59,978.64 641.57,978.83 645.05,979.02 C648.52,979.21 654.01,979.32 655.80,979.38" fill="none" stroke="#3D9A88" stroke-width="0.8" stroke-dasharray="2.6,0.7" opacity="0.85"/>
<path d="M601.46,977.06 C603.14,977.45 608.18,978.80 611.54,979.38 C614.90,979.96 618.26,980.19 621.61,980.54 C624.97,980.88 628.33,981.17 631.69,981.43 C635.05,981.68 637.74,981.86 641.76,982.05 C645.78,982.24 653.46,982.50 655.80,982.59" fill="none" stroke="#3D9A88" stroke-width="0.95" stroke-dasharray="2.8,3.0"/>
<rect x="70.00" y="1075.20" width="30.00" height="8.20" fill="#fff" stroke="#F3B0D4" stroke-width="2"/>
<rect x="69.00" y="1093.80" width="32.00" height="10.00" fill="#F0B1D3"/>
<text x="117.60" y="1082.40" font-size="10.40" fill="#F2A6CF" text-anchor="start" textLength="71.6" lengthAdjust="spacingAndGlyphs" >Remodelling off</text>
<text x="117.60" y="1101.90" font-size="10.40" fill="#F2A6CF" text-anchor="start" textLength="70.5" lengthAdjust="spacingAndGlyphs" >Remodelling on</text>
<rect x="228.60" y="1076.00" width="30.00" height="8.00" fill="#fff" stroke="#F3B98C" stroke-width="2"/>
<rect x="228.00" y="1094.00" width="32.20" height="9.60" fill="#F5BC8F"/>
<text x="272.10" y="1083.00" font-size="10.40" fill="#F3B98C" text-anchor="start" textLength="72.6" lengthAdjust="spacingAndGlyphs" >Sensitisation off</text>
<text x="272.10" y="1102.40" font-size="10.40" fill="#F3B98C" text-anchor="start" textLength="71.5" lengthAdjust="spacingAndGlyphs" >Sensitisation on</text>
<rect x="390.80" y="1075.60" width="30.10" height="8.00" fill="#fff" stroke="#D9D9D9" stroke-width="2"/>
<rect x="389.80" y="1094.20" width="32.10" height="9.60" fill="#C5E0B4"/>
<text x="437.60" y="1082.00" font-size="10.40" fill="#1a1a1a" text-anchor="start" textLength="34.4" lengthAdjust="spacingAndGlyphs" >Healthy</text>
<text x="437.60" y="1102.40" font-size="10.40" fill="#C5E0B4" text-anchor="start" textLength="33.4" lengthAdjust="spacingAndGlyphs" >Allergic</text>
<rect x="520.40" y="1074.20" width="32.30" height="9.90" fill="#A9D5CB"/>
<rect x="520.40" y="1094.00" width="32.30" height="10.00" fill="#4E9889"/>
<text x="564.60" y="1082.90" font-size="10.40" fill="#A9D5CB" text-anchor="start" textLength="45.2" lengthAdjust="spacingAndGlyphs" >Asthmatic</text>
<text x="564.60" y="1101.90" font-size="10.40" fill="#3F8F80" text-anchor="start" textLength="79.9" lengthAdjust="spacingAndGlyphs" >Allergic asthmatic</text>
</svg></body></html>
